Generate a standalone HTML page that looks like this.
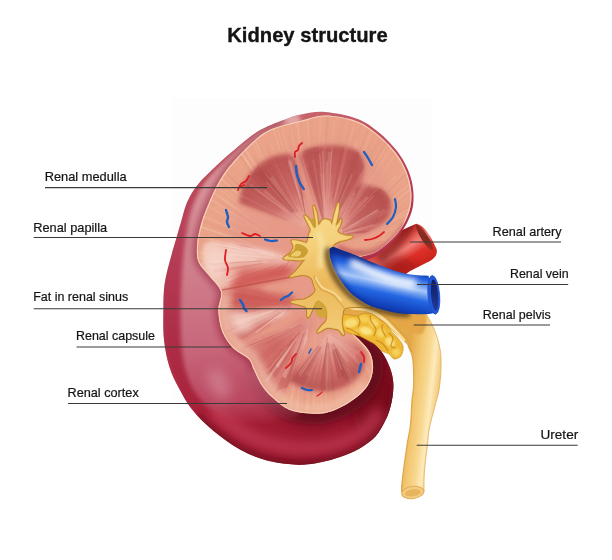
<!DOCTYPE html>
<html><head><meta charset="utf-8"><title>Kidney structure</title>
<style>
html,body{margin:0;padding:0;background:#fff;}
body{width:612px;height:560px;overflow:hidden;position:relative;font-family:"Liberation Sans",sans-serif;}
svg{position:absolute;left:0;top:0;display:block;}
text{font-family:"Liberation Sans",sans-serif;fill:#141414;}
.lbl{font-size:12.1px;stroke:#141414;stroke-width:0.2px;}
.ttl{font-size:20.4px;font-weight:bold;stroke:#141414;stroke-width:0.35px;}
.ln{stroke:#3a3a3a;stroke-width:1.1;fill:none;}
</style></head><body>
<svg width="612" height="560" viewBox="0 0 612 560">
<defs>
<clipPath id="cface"><path d="M300.0,121.0 C309.1,118.7 315.7,115.5 325.0,115.5 C334.3,115.5 347.3,117.9 356.0,121.0 C364.7,124.1 370.4,128.8 377.0,134.0 C383.6,139.2 390.7,146.4 395.5,152.5 C400.3,158.6 403.4,164.4 406.0,170.5 C408.6,176.6 410.2,183.1 411.0,189.0 C411.8,194.9 411.6,200.5 410.6,206.0 C409.6,211.5 407.3,217.3 405.0,222.0 C402.7,226.7 400.1,230.2 397.0,234.0 C393.9,237.8 390.3,241.3 386.5,244.5 C382.7,247.7 378.8,250.8 374.0,253.0 C369.2,255.2 362.3,255.5 358.0,258.0 C353.7,260.5 350.3,262.7 348.0,268.0 C345.7,273.3 344.7,282.2 344.0,290.0 C343.3,297.8 343.7,308.8 344.0,315.0 C344.3,321.2 343.4,322.8 346.0,327.0 C348.6,331.2 355.5,335.6 359.6,340.0 C363.7,344.4 368.2,348.7 370.4,353.6 C372.6,358.5 373.4,364.2 373.0,369.6 C372.6,375.0 370.8,380.8 367.7,385.7 C364.6,390.6 359.7,395.0 354.3,399.0 C348.9,403.0 341.8,407.3 335.5,409.8 C329.2,412.3 324.4,413.8 316.8,413.8 C309.2,413.8 297.4,412.7 290.0,410.0 C282.6,407.3 277.2,401.7 272.5,397.6 C267.8,393.5 264.9,390.2 261.8,385.5 C258.7,380.8 256.0,373.9 253.8,369.5 C251.6,365.1 251.9,362.4 248.4,358.8 C244.9,355.2 237.3,352.4 233.0,347.9 C228.7,343.4 224.8,338.1 222.3,331.8 C219.9,325.5 218.5,316.7 218.3,310.0 C218.1,303.3 222.6,297.4 221.0,291.6 C219.4,285.9 212.8,280.4 209.0,275.5 C205.2,270.6 200.5,266.9 198.5,262.0 C196.5,257.1 196.8,251.3 197.0,246.0 C197.2,240.7 198.3,235.6 199.6,230.0 C200.9,224.4 202.3,219.4 205.0,212.5 C207.7,205.6 211.5,196.0 215.5,188.4 C219.5,180.8 222.9,174.6 229.0,167.0 C235.1,159.4 244.9,149.2 251.8,142.9 C258.7,136.7 262.5,133.2 270.5,129.5 C278.5,125.8 290.9,123.3 300.0,121.0Z"/></clipPath>
<clipPath id="couter"><path d="M300.0,114.7 C306.8,113.4 315.3,111.3 324.8,112.0 C334.3,112.7 348.1,115.4 357.0,118.7 C365.9,122.0 371.7,126.6 378.4,132.0 C385.1,137.4 392.1,144.7 397.0,151.0 C401.9,157.3 405.2,163.4 407.9,169.6 C410.6,175.8 412.2,182.2 413.0,188.4 C413.8,194.6 413.8,201.2 412.8,207.0 C411.8,212.8 409.3,218.3 407.0,223.0 C404.7,227.7 402.0,231.2 399.0,235.0 C396.0,238.8 392.8,242.5 389.0,246.0 C385.2,249.5 380.8,253.3 376.0,256.0 C371.2,258.7 364.3,259.7 360.0,262.0 C355.7,264.3 352.3,265.3 350.0,270.0 C347.7,274.7 346.0,282.5 346.0,290.0 C346.0,297.5 346.8,307.5 350.0,315.0 C353.2,322.5 359.8,328.8 365.0,334.8 C370.2,340.8 376.8,345.5 381.0,351.0 C385.2,356.5 388.0,362.8 390.0,368.0 C392.0,373.2 392.8,377.3 393.2,382.0 C393.6,386.7 393.2,391.3 392.6,396.0 C392.0,400.7 390.8,405.8 389.5,410.0 C388.2,414.2 387.4,416.6 385.0,421.0 C382.6,425.4 379.6,432.0 375.4,436.6 C371.2,441.2 365.5,445.0 359.6,448.4 C353.7,451.8 346.3,454.7 340.0,457.0 C333.7,459.3 327.3,460.8 322.0,462.0 C316.7,463.2 312.7,463.9 308.0,464.3 C303.3,464.7 300.8,465.2 294.0,464.6 C287.2,464.0 275.9,463.0 267.0,460.5 C258.1,458.0 249.3,454.7 240.4,449.8 C231.5,444.9 221.7,437.7 213.6,431.0 C205.5,424.3 197.8,416.8 192.0,409.6 C186.2,402.4 182.6,395.1 178.8,388.0 C175.0,380.9 171.9,374.8 169.4,366.8 C166.9,358.8 165.0,349.5 164.0,340.0 C163.0,330.5 163.3,319.4 163.4,310.0 C163.5,300.6 163.4,292.5 164.7,283.6 C166.0,274.7 168.9,264.9 171.0,256.8 C173.1,248.7 175.6,241.1 177.3,235.0 C179.1,228.9 180.1,225.5 181.5,220.5 C182.9,215.5 184.2,209.8 186.0,205.0 C187.8,200.2 190.1,195.9 192.5,192.0 C194.9,188.1 197.6,184.8 200.5,181.5 C203.4,178.2 205.1,176.7 210.0,172.0 C214.9,167.3 222.2,160.3 230.0,153.6 C237.8,146.9 248.0,137.6 257.0,132.0 C266.0,126.4 276.8,122.9 284.0,120.0 C291.2,117.1 293.2,116.0 300.0,114.7Z"/></clipPath>
<filter id="b07" filterUnits="userSpaceOnUse" x="0" y="0" width="612" height="560"><feGaussianBlur stdDeviation="0.7"/></filter>
<filter id="b1" filterUnits="userSpaceOnUse" x="0" y="0" width="612" height="560"><feGaussianBlur stdDeviation="1"/></filter>
<filter id="b15" filterUnits="userSpaceOnUse" x="0" y="0" width="612" height="560"><feGaussianBlur stdDeviation="1.5"/></filter>
<filter id="b2" filterUnits="userSpaceOnUse" x="0" y="0" width="612" height="560"><feGaussianBlur stdDeviation="2"/></filter>
<filter id="b3" filterUnits="userSpaceOnUse" x="0" y="0" width="612" height="560"><feGaussianBlur stdDeviation="3"/></filter>
<filter id="b4" filterUnits="userSpaceOnUse" x="0" y="0" width="612" height="560"><feGaussianBlur stdDeviation="4"/></filter>
<filter id="b6" filterUnits="userSpaceOnUse" x="0" y="0" width="612" height="560"><feGaussianBlur stdDeviation="6"/></filter>
<filter id="b8" filterUnits="userSpaceOnUse" x="0" y="0" width="612" height="560"><feGaussianBlur stdDeviation="8"/></filter>
<filter id="b12" filterUnits="userSpaceOnUse" x="0" y="0" width="612" height="560"><feGaussianBlur stdDeviation="12"/></filter>
<linearGradient id="gart" gradientUnits="userSpaceOnUse" x1="400" y1="232" x2="424" y2="270"><stop offset="0" stop-color="#c02420"/><stop offset="0.22" stop-color="#e85a52"/><stop offset="0.38" stop-color="#f08078"/><stop offset="0.6" stop-color="#de3028"/><stop offset="1" stop-color="#c42018"/></linearGradient>
<linearGradient id="garti" gradientUnits="userSpaceOnUse" x1="416" y1="226" x2="432" y2="250"><stop offset="0" stop-color="#b03028"/><stop offset="0.5" stop-color="#7e2a20"/><stop offset="1" stop-color="#b83028"/></linearGradient>
<clipPath id="cart"><path d="M358,250 L416.2,223.8 C424,225 431,236 436.5,249 C438,254 435,258 430,261 L410,271 L395,282 L354,268Z"/></clipPath>
<linearGradient id="gcap" gradientUnits="userSpaceOnUse" x1="220" y1="130" x2="330" y2="470"><stop offset="0" stop-color="#c8686e"/><stop offset="0.25" stop-color="#b8405a"/><stop offset="0.5" stop-color="#ae2e48"/><stop offset="0.75" stop-color="#a82038"/><stop offset="1" stop-color="#8e1226"/></linearGradient>
<linearGradient id="gplat" gradientUnits="userSpaceOnUse" x1="230" y1="140" x2="250" y2="430"><stop offset="0" stop-color="#e0a4a4"/><stop offset="0.3" stop-color="#d48a94"/><stop offset="0.7" stop-color="#c8687c"/><stop offset="0.9" stop-color="#c25870" stop-opacity="0.7"/><stop offset="1" stop-color="#b83a52" stop-opacity="0"/></linearGradient>
<radialGradient id="gp16" gradientUnits="userSpaceOnUse" cx="308.0" cy="228.0" r="76.0"><stop offset="0" stop-color="#ecb0a2"/><stop offset="0.22" stop-color="#e49a8e"/><stop offset="0.5" stop-color="#cc6c68"/><stop offset="0.85" stop-color="#bf5a58"/><stop offset="1" stop-color="#bb5654"/></radialGradient>
<clipPath id="cp17"><path d="M308.0,228.0 L239.0,203.0 C239.8,199.8 241.2,190.0 244.0,184.0 C246.8,178.0 251.3,171.5 256.0,167.0 C260.7,162.5 266.2,159.0 272.0,157.0 C277.8,155.0 286.7,152.8 291.0,155.0 C295.3,157.2 295.7,162.5 298.0,170.0 C300.3,177.5 303.8,195.0 305.0,200.0Z"/></clipPath>
<radialGradient id="gp18" gradientUnits="userSpaceOnUse" cx="326.0" cy="234.0" r="94.0"><stop offset="0" stop-color="#ecb0a2"/><stop offset="0.22" stop-color="#e49a8e"/><stop offset="0.5" stop-color="#cc6c68"/><stop offset="0.85" stop-color="#bf5a58"/><stop offset="1" stop-color="#bb5654"/></radialGradient>
<clipPath id="cp19"><path d="M326.0,234.0 L299.0,156.0 C300.2,154.9 302.2,151.2 306.0,149.5 C309.8,147.8 316.0,146.6 322.0,146.0 C328.0,145.4 336.3,145.2 342.0,146.0 C347.7,146.8 352.7,148.5 356.0,150.5 C359.3,152.5 360.7,154.8 362.0,158.0 C363.3,161.2 364.7,164.3 364.0,170.0 C363.3,175.7 361.0,184.7 358.0,192.0 C355.0,199.3 348.0,210.3 346.0,214.0Z"/></clipPath>
<radialGradient id="gp20" gradientUnits="userSpaceOnUse" cx="334.0" cy="236.0" r="60.0"><stop offset="0" stop-color="#ecb0a2"/><stop offset="0.22" stop-color="#e49a8e"/><stop offset="0.5" stop-color="#cc6c68"/><stop offset="0.85" stop-color="#bf5a58"/><stop offset="1" stop-color="#bb5654"/></radialGradient>
<clipPath id="cp21"><path d="M334.0,236.0 L350.0,200.0 C351.0,197.7 352.7,188.3 356.0,186.0 C359.3,183.7 365.3,185.2 370.0,186.0 C374.7,186.8 380.5,188.0 384.0,191.0 C387.5,194.0 390.5,199.3 391.0,204.0 C391.5,208.7 390.2,214.7 387.0,219.0 C383.8,223.3 377.8,226.8 372.0,230.0 C366.2,233.2 355.3,236.7 352.0,238.0Z"/></clipPath>
<radialGradient id="gp22" gradientUnits="userSpaceOnUse" cx="291.0" cy="259.0" r="85.0"><stop offset="0" stop-color="#f0bcae"/><stop offset="0.3" stop-color="#eaa89c"/><stop offset="0.6" stop-color="#e8a498"/><stop offset="1" stop-color="#f3cabb"/></radialGradient>
<clipPath id="cp23"><path d="M291.0,259.0 L262.0,247.0 C256.7,246.3 239.3,243.7 230.0,243.0 C220.7,242.3 210.5,239.8 206.0,243.0 C201.5,246.2 202.3,256.2 203.0,262.0 C203.7,267.8 207.3,273.5 210.0,278.0 C212.7,282.5 210.7,288.5 219.0,289.0 C227.3,289.5 248.3,283.7 260.0,281.0 C271.7,278.3 284.2,274.3 289.0,273.0Z"/></clipPath>
<radialGradient id="gp24" gradientUnits="userSpaceOnUse" cx="296.0" cy="303.0" r="80.0"><stop offset="0" stop-color="#efb8aa"/><stop offset="0.2" stop-color="#eaa89c"/><stop offset="0.5" stop-color="#d4736c"/><stop offset="0.8" stop-color="#d98078"/><stop offset="1" stop-color="#e59a88"/></radialGradient>
<clipPath id="cp25"><path d="M296.0,303.0 L258.0,288.0 C251.8,288.2 227.5,285.7 221.0,289.0 C214.5,292.3 218.7,301.5 219.0,308.0 C219.3,314.5 220.5,321.8 223.0,328.0 C225.5,334.2 227.5,344.7 234.0,345.0 C240.5,345.3 252.7,335.5 262.0,330.0 C271.3,324.5 285.3,315.0 290.0,312.0Z"/></clipPath>
<radialGradient id="gp26" gradientUnits="userSpaceOnUse" cx="309.0" cy="320.0" r="84.0"><stop offset="0" stop-color="#efb8aa"/><stop offset="0.2" stop-color="#eaa89c"/><stop offset="0.5" stop-color="#d4736c"/><stop offset="0.8" stop-color="#d98078"/><stop offset="1" stop-color="#e59a88"/></radialGradient>
<clipPath id="cp27"><path d="M309.0,320.0 L238.0,346.0 C239.3,348.0 243.3,353.7 246.0,358.0 C248.7,362.3 250.7,367.0 254.0,372.0 C257.3,377.0 261.7,383.7 266.0,388.0 C270.3,392.3 275.0,400.7 280.0,398.0 C285.0,395.3 291.7,380.7 296.0,372.0 C300.3,363.3 304.3,350.3 306.0,346.0Z"/></clipPath>
<radialGradient id="gp28" gradientUnits="userSpaceOnUse" cx="328.0" cy="333.0" r="62.0"><stop offset="0" stop-color="#efb8aa"/><stop offset="0.25" stop-color="#e6a094"/><stop offset="0.6" stop-color="#cf6e68"/><stop offset="0.9" stop-color="#c4625e"/><stop offset="1" stop-color="#c4625e"/></radialGradient>
<clipPath id="cp29"><path d="M328.0,333.0 L288.0,380.0 C289.7,381.0 293.7,384.3 298.0,386.0 C302.3,387.7 308.3,389.3 314.0,390.0 C319.7,390.7 326.0,391.2 332.0,390.0 C338.0,388.8 345.0,386.3 350.0,383.0 C355.0,379.7 359.3,374.8 362.0,370.0 C364.7,365.2 367.0,358.7 366.0,354.0 C365.0,349.3 357.7,344.0 356.0,342.0Z"/></clipPath>
<linearGradient id="gure" gradientUnits="userSpaceOnUse" x1="404" y1="400" x2="440" y2="404"><stop offset="0" stop-color="#e4a848"/><stop offset="0.3" stop-color="#f2c670"/><stop offset="0.55" stop-color="#f8d890"/><stop offset="0.72" stop-color="#fdeabc"/><stop offset="1" stop-color="#eebc60"/></linearGradient>
<radialGradient id="gfat" cx="0.4" cy="0.35" r="0.7"><stop offset="0" stop-color="#f9e48c"/><stop offset="0.45" stop-color="#f0c648"/><stop offset="1" stop-color="#d9a024"/></radialGradient>
<clipPath id="cfat"><path d="M340.5,318.5 C340.7,315.9 342.4,314.9 345.0,314.5 C347.6,314.1 352.8,316.2 356.0,316.0 C359.2,315.8 361.3,313.8 364.0,313.5 C366.7,313.2 369.5,313.1 372.0,314.0 C374.5,314.9 376.7,317.3 379.0,319.0 C381.3,320.7 384.0,322.0 386.0,324.0 C388.0,326.0 389.2,328.8 391.0,331.0 C392.8,333.2 395.0,334.5 397.0,337.0 C399.0,339.5 402.3,342.8 403.0,346.0 C403.7,349.2 402.5,353.8 401.0,356.0 C399.5,358.2 396.0,359.3 394.0,359.0 C392.0,358.7 391.0,355.3 389.0,354.0 C387.0,352.7 384.2,352.5 382.0,351.0 C379.8,349.5 378.5,346.8 376.0,345.0 C373.5,343.2 369.8,341.5 367.0,340.0 C364.2,338.5 361.7,337.0 359.0,336.0 C356.3,335.0 353.5,335.0 351.0,334.0 C348.5,333.0 345.8,332.6 344.0,330.0 C342.2,327.4 340.3,321.1 340.5,318.5Z"/></clipPath>
<linearGradient id="gpel" gradientUnits="userSpaceOnUse" x1="320" y1="205" x2="330" y2="335"><stop offset="0" stop-color="#f7da8c"/><stop offset="0.3" stop-color="#f4d07a"/><stop offset="0.6" stop-color="#ecb95c"/><stop offset="0.8" stop-color="#efc268"/><stop offset="1" stop-color="#f3cc78"/></linearGradient>
<linearGradient id="gvein" gradientUnits="userSpaceOnUse" x1="392" y1="266" x2="382" y2="312"><stop offset="0" stop-color="#153aa8"/><stop offset="0.14" stop-color="#2464e0"/><stop offset="0.38" stop-color="#a8c8f8"/><stop offset="0.6" stop-color="#2466e2"/><stop offset="0.85" stop-color="#1242bc"/><stop offset="1" stop-color="#0b2a8c"/></linearGradient>
<clipPath id="cvein"><path d="M329.5,249.0 C330.1,248.7 331.2,246.9 333.0,247.0 C334.8,247.1 336.3,248.2 340.0,249.5 C343.7,250.8 350.0,253.0 355.0,255.0 C360.0,257.0 364.2,259.2 370.0,261.5 C375.8,263.8 383.3,266.8 390.0,269.0 C396.7,271.2 403.6,273.4 410.0,274.5 C416.4,275.6 425.5,275.5 428.6,275.7 L434.0,313.0 C432.6,313.2 429.7,314.1 425.7,314.3 C421.7,314.5 414.8,314.2 410.0,314.0 C405.2,313.8 402.0,313.7 397.0,312.9 C392.0,312.1 384.7,310.3 380.0,309.0 C375.3,307.7 373.1,307.3 368.6,305.0 C364.1,302.7 357.4,298.7 353.0,295.0 C348.6,291.3 345.6,287.2 342.5,283.0 C339.4,278.8 336.6,274.3 334.5,270.0 C332.4,265.7 330.8,259.2 330.0,257.0Z"/></clipPath>
<linearGradient id="gvi" x1="0" y1="0" x2="0" y2="1"><stop offset="0" stop-color="#121c5e"/><stop offset="1" stop-color="#1e3a9c"/></linearGradient>
</defs>
<rect x="172" y="98" width="260" height="304" fill="#fdfdfd"/>
<path d="M358,250 L416.2,223.8 C424,225 431,236 436.5,249 C438,254 435,258 430,261 L410,271 L395,282 L354,268Z" fill="url(#gart)"/>
<g clip-path="url(#cart)"><path d="M372,262 L400,256 L420,266 L395,282Z" fill="#8e1818" filter="url(#b4)" opacity="0.6"/></g>
<ellipse cx="424.6" cy="237.6" rx="15" ry="3.4" transform="rotate(57.6 424.6 237.6)" fill="url(#garti)"/>
<g clip-path="url(#cart)"><path d="M412,222 L403,237 L392,249 L378,259" fill="none" stroke="#6e1414" stroke-width="9" filter="url(#b3)" opacity="0.65"/></g>
<path d="M300.0,114.7 C306.8,113.4 315.3,111.3 324.8,112.0 C334.3,112.7 348.1,115.4 357.0,118.7 C365.9,122.0 371.7,126.6 378.4,132.0 C385.1,137.4 392.1,144.7 397.0,151.0 C401.9,157.3 405.2,163.4 407.9,169.6 C410.6,175.8 412.2,182.2 413.0,188.4 C413.8,194.6 413.8,201.2 412.8,207.0 C411.8,212.8 409.3,218.3 407.0,223.0 C404.7,227.7 402.0,231.2 399.0,235.0 C396.0,238.8 392.8,242.5 389.0,246.0 C385.2,249.5 380.8,253.3 376.0,256.0 C371.2,258.7 364.3,259.7 360.0,262.0 C355.7,264.3 352.3,265.3 350.0,270.0 C347.7,274.7 346.0,282.5 346.0,290.0 C346.0,297.5 346.8,307.5 350.0,315.0 C353.2,322.5 359.8,328.8 365.0,334.8 C370.2,340.8 376.8,345.5 381.0,351.0 C385.2,356.5 388.0,362.8 390.0,368.0 C392.0,373.2 392.8,377.3 393.2,382.0 C393.6,386.7 393.2,391.3 392.6,396.0 C392.0,400.7 390.8,405.8 389.5,410.0 C388.2,414.2 387.4,416.6 385.0,421.0 C382.6,425.4 379.6,432.0 375.4,436.6 C371.2,441.2 365.5,445.0 359.6,448.4 C353.7,451.8 346.3,454.7 340.0,457.0 C333.7,459.3 327.3,460.8 322.0,462.0 C316.7,463.2 312.7,463.9 308.0,464.3 C303.3,464.7 300.8,465.2 294.0,464.6 C287.2,464.0 275.9,463.0 267.0,460.5 C258.1,458.0 249.3,454.7 240.4,449.8 C231.5,444.9 221.7,437.7 213.6,431.0 C205.5,424.3 197.8,416.8 192.0,409.6 C186.2,402.4 182.6,395.1 178.8,388.0 C175.0,380.9 171.9,374.8 169.4,366.8 C166.9,358.8 165.0,349.5 164.0,340.0 C163.0,330.5 163.3,319.4 163.4,310.0 C163.5,300.6 163.4,292.5 164.7,283.6 C166.0,274.7 168.9,264.9 171.0,256.8 C173.1,248.7 175.6,241.1 177.3,235.0 C179.1,228.9 180.1,225.5 181.5,220.5 C182.9,215.5 184.2,209.8 186.0,205.0 C187.8,200.2 190.1,195.9 192.5,192.0 C194.9,188.1 197.6,184.8 200.5,181.5 C203.4,178.2 205.1,176.7 210.0,172.0 C214.9,167.3 222.2,160.3 230.0,153.6 C237.8,146.9 248.0,137.6 257.0,132.0 C266.0,126.4 276.8,122.9 284.0,120.0 C291.2,117.1 293.2,116.0 300.0,114.7Z" fill="url(#gcap)"/>
<g clip-path="url(#couter)">
<ellipse cx="378" cy="395" rx="26" ry="58" fill="#7a0f1f" filter="url(#b8)" opacity="0.9"/>
<path d="M196.0,418.0 C198.9,420.5 206.2,427.4 213.6,433.0 C221.0,438.6 231.5,446.9 240.4,451.8 C249.3,456.7 258.1,460.0 267.0,462.5 C275.9,465.0 287.2,466.0 294.0,466.6 C300.8,467.2 303.3,466.7 308.0,466.3 C312.7,465.9 316.7,465.2 322.0,464.0 C327.3,462.8 333.6,461.3 340.0,459.0 C346.4,456.7 354.3,453.5 360.5,450.0 C366.7,446.5 372.6,442.7 377.0,438.0 C381.4,433.3 384.6,426.7 387.0,422.0 C389.4,417.3 390.2,414.3 391.5,410.0 C392.8,405.7 394.0,400.7 394.6,396.0 C395.2,391.3 394.9,384.3 395.0,382.0" fill="none" stroke="#6e0a1a" stroke-width="11" filter="url(#b4)" opacity="0.9"/>
<path d="M212.0,410.0 C218.3,414.5 236.2,430.7 250.0,437.0 C263.8,443.3 280.3,446.8 295.0,448.0 C309.7,449.2 325.8,447.3 338.0,444.0 C350.2,440.7 361.0,433.7 368.0,428.0 C375.0,422.3 378.0,413.0 380.0,410.0" fill="none" stroke="#c63c56" stroke-width="14" filter="url(#b6)" opacity="0.75"/>
<path d="M350.0,330.0 C352.0,331.8 358.3,337.0 362.0,341.0 C365.7,345.0 369.8,349.2 372.0,354.0 C374.2,358.8 375.4,364.5 375.0,370.0 C374.6,375.5 372.7,381.9 369.5,387.0 C366.3,392.1 361.5,396.4 356.0,400.5 C350.5,404.6 343.0,409.1 336.5,411.6 C330.0,414.2 324.6,415.7 316.8,415.8 C309.1,415.9 297.6,414.7 290.0,412.0 C282.4,409.3 276.5,403.9 271.5,399.6 C266.5,395.4 263.2,391.4 260.0,386.5 C256.8,381.6 253.3,373.2 252.0,370.5" fill="none" stroke="#62091a" stroke-width="17" filter="url(#b4)" opacity="0.95"/>
<path d="M300.0,118.0 C295.0,105.4 278.5,121.2 270.0,124.5 C261.5,127.8 256.3,132.2 249.0,138.0 C241.7,143.8 233.2,152.3 226.0,159.5 C218.8,166.7 211.7,172.8 206.0,181.0 C200.3,189.2 195.5,198.7 192.0,209.0 C188.5,219.3 186.8,231.2 185.0,243.0 C183.2,254.8 182.2,268.0 181.5,280.0 C180.8,292.0 180.5,304.2 180.5,315.0 C180.5,325.8 180.6,335.5 181.5,345.0 C182.4,354.5 183.4,363.7 186.0,372.0 C188.6,380.3 192.2,388.3 197.0,395.0 C201.8,401.7 207.8,407.7 215.0,412.0 C222.2,416.3 230.0,419.7 240.0,421.0 C250.0,422.3 265.0,422.7 275.0,420.0 C285.0,417.3 302.5,425.0 300.0,405.0 C297.5,385.0 260.0,334.2 260.0,300.0 C260.0,265.8 293.3,230.3 300.0,200.0 C306.7,169.7 305.0,130.6 300.0,118.0Z" fill="url(#gplat)" filter="url(#b2)"/>
<ellipse cx="219" cy="384" rx="10" ry="17" fill="#dc9aaa" filter="url(#b6)" opacity="0.5" transform="rotate(-28 219 384)"/>
<path d="M284.0,119.0 C279.5,121.0 266.0,125.4 257.0,131.0 C248.0,136.6 237.6,145.9 230.0,152.6 C222.4,159.3 217.3,164.8 211.6,171.0 C205.8,177.2 200.4,181.9 195.5,190.0 C190.6,198.1 185.1,212.0 182.0,219.5 C178.9,227.0 179.0,228.8 176.8,235.0 C174.6,241.2 170.7,248.7 168.7,256.8 C166.7,264.9 165.6,274.7 164.7,283.6 C163.8,292.5 163.5,300.6 163.4,310.0 C163.3,319.4 163.0,330.5 164.0,340.0 C165.0,349.5 166.9,358.8 169.4,366.8 C171.9,374.8 177.2,384.5 178.8,388.0" fill="none" stroke="#b23a4c" stroke-width="3.5" filter="url(#b15)" opacity="0.6"/>
<path d="M285.0,124.0 C282.6,124.9 276.0,126.3 270.5,129.5 C265.0,132.7 258.7,136.7 251.8,142.9 C244.9,149.2 235.1,159.4 229.0,167.0 C222.9,174.6 219.5,180.8 215.5,188.4 C211.5,196.0 207.7,205.6 205.0,212.5 C202.3,219.4 200.9,224.4 199.6,230.0 C198.3,235.6 197.2,240.7 197.0,246.0 C196.8,251.3 196.5,257.1 198.5,262.0 C200.5,266.9 205.2,270.6 209.0,275.5 C212.8,280.4 219.4,285.9 221.0,291.6 C222.6,297.4 218.1,303.3 218.3,310.0 C218.5,316.7 219.9,325.5 222.3,331.8 C224.8,338.1 228.7,343.4 233.0,347.9 C237.3,352.4 244.9,355.2 248.4,358.8 C251.9,362.4 252.9,367.7 253.8,369.5" fill="none" stroke="#8a1830" stroke-width="7" filter="url(#b3)" opacity="0.55"/>
</g>
<path d="M300.0,121.0 C309.1,118.7 315.7,115.5 325.0,115.5 C334.3,115.5 347.3,117.9 356.0,121.0 C364.7,124.1 370.4,128.8 377.0,134.0 C383.6,139.2 390.7,146.4 395.5,152.5 C400.3,158.6 403.4,164.4 406.0,170.5 C408.6,176.6 410.2,183.1 411.0,189.0 C411.8,194.9 411.6,200.5 410.6,206.0 C409.6,211.5 407.3,217.3 405.0,222.0 C402.7,226.7 400.1,230.2 397.0,234.0 C393.9,237.8 390.3,241.3 386.5,244.5 C382.7,247.7 378.8,250.8 374.0,253.0 C369.2,255.2 362.3,255.5 358.0,258.0 C353.7,260.5 350.3,262.7 348.0,268.0 C345.7,273.3 344.7,282.2 344.0,290.0 C343.3,297.8 343.7,308.8 344.0,315.0 C344.3,321.2 343.4,322.8 346.0,327.0 C348.6,331.2 355.5,335.6 359.6,340.0 C363.7,344.4 368.2,348.7 370.4,353.6 C372.6,358.5 373.4,364.2 373.0,369.6 C372.6,375.0 370.8,380.8 367.7,385.7 C364.6,390.6 359.7,395.0 354.3,399.0 C348.9,403.0 341.8,407.3 335.5,409.8 C329.2,412.3 324.4,413.8 316.8,413.8 C309.2,413.8 297.4,412.7 290.0,410.0 C282.6,407.3 277.2,401.7 272.5,397.6 C267.8,393.5 264.9,390.2 261.8,385.5 C258.7,380.8 256.0,373.9 253.8,369.5 C251.6,365.1 251.9,362.4 248.4,358.8 C244.9,355.2 237.3,352.4 233.0,347.9 C228.7,343.4 224.8,338.1 222.3,331.8 C219.9,325.5 218.5,316.7 218.3,310.0 C218.1,303.3 222.6,297.4 221.0,291.6 C219.4,285.9 212.8,280.4 209.0,275.5 C205.2,270.6 200.5,266.9 198.5,262.0 C196.5,257.1 196.8,251.3 197.0,246.0 C197.2,240.7 198.3,235.6 199.6,230.0 C200.9,224.4 202.3,219.4 205.0,212.5 C207.7,205.6 211.5,196.0 215.5,188.4 C219.5,180.8 222.9,174.6 229.0,167.0 C235.1,159.4 244.9,149.2 251.8,142.9 C258.7,136.7 262.5,133.2 270.5,129.5 C278.5,125.8 290.9,123.3 300.0,121.0Z" fill="#eaa388"/>
<g clip-path="url(#cface)">
<g filter="url(#b07)">
<line x1="293.7" y1="318.1" x2="262.8" y2="395.3" stroke="#f6cdb4" stroke-width="1.9" opacity="0.14"/>
<line x1="240.8" y1="211.9" x2="203.6" y2="185.2" stroke="#f6cdb4" stroke-width="1.4" opacity="0.13"/>
<line x1="366.5" y1="306.3" x2="433.6" y2="360.0" stroke="#f6cdb4" stroke-width="2.1" opacity="0.23"/>
<line x1="277.6" y1="238.2" x2="221.2" y2="197.6" stroke="#f6cdb4" stroke-width="2.2" opacity="0.13"/>
<line x1="349.3" y1="212.1" x2="373.7" y2="174.6" stroke="#f6cdb4" stroke-width="1.6" opacity="0.22"/>
<line x1="296.3" y1="213.6" x2="269.7" y2="140.5" stroke="#f3c0a4" stroke-width="1.3" opacity="0.22"/>
<line x1="354.7" y1="285.6" x2="393.8" y2="306.0" stroke="#f8d8c4" stroke-width="1.4" opacity="0.18"/>
<line x1="261.2" y1="224.9" x2="220.0" y2="194.2" stroke="#f3c0a4" stroke-width="1.8" opacity="0.16"/>
<line x1="255.9" y1="227.7" x2="182.2" y2="181.2" stroke="#e29a84" stroke-width="1.2" opacity="0.30"/>
<line x1="359.9" y1="316.4" x2="415.5" y2="380.1" stroke="#f3c0a4" stroke-width="2.1" opacity="0.20"/>
<line x1="357.6" y1="252.0" x2="419.3" y2="233.3" stroke="#dc8c78" stroke-width="1.3" opacity="0.18"/>
<line x1="235.2" y1="267.1" x2="201.1" y2="268.0" stroke="#f6cdb4" stroke-width="2.1" opacity="0.21"/>
<line x1="292.9" y1="218.8" x2="255.9" y2="141.5" stroke="#f8d8c4" stroke-width="2.2" opacity="0.27"/>
<line x1="302.2" y1="337.4" x2="287.1" y2="423.0" stroke="#f6cdb4" stroke-width="2.1" opacity="0.18"/>
<line x1="265.4" y1="213.1" x2="232.4" y2="178.5" stroke="#dc8c78" stroke-width="1.0" opacity="0.16"/>
<line x1="250.3" y1="331.1" x2="223.3" y2="358.7" stroke="#e29a84" stroke-width="1.4" opacity="0.17"/>
<line x1="355.1" y1="323.3" x2="396.2" y2="383.0" stroke="#e29a84" stroke-width="2.2" opacity="0.24"/>
<line x1="277.3" y1="309.0" x2="251.8" y2="338.8" stroke="#f3c0a4" stroke-width="1.1" opacity="0.16"/>
<line x1="245.9" y1="273.2" x2="200.3" y2="278.6" stroke="#f6cdb4" stroke-width="1.0" opacity="0.22"/>
<line x1="271.9" y1="220.5" x2="242.9" y2="190.6" stroke="#f8d8c4" stroke-width="2.1" opacity="0.24"/>
<line x1="311.0" y1="186.6" x2="305.7" y2="84.0" stroke="#f8d8c4" stroke-width="1.3" opacity="0.19"/>
<line x1="372.1" y1="319.3" x2="398.9" y2="344.8" stroke="#f6cdb4" stroke-width="2.2" opacity="0.20"/>
<line x1="369.0" y1="320.8" x2="396.8" y2="349.6" stroke="#f8d8c4" stroke-width="1.0" opacity="0.14"/>
<line x1="288.0" y1="304.0" x2="234.0" y2="381.9" stroke="#f8d8c4" stroke-width="1.3" opacity="0.23"/>
<line x1="382.4" y1="240.8" x2="438.6" y2="220.6" stroke="#f6cdb4" stroke-width="2.0" opacity="0.30"/>
<line x1="252.3" y1="282.0" x2="217.9" y2="291.3" stroke="#f6cdb4" stroke-width="1.8" opacity="0.25"/>
<line x1="241.1" y1="277.5" x2="180.6" y2="287.7" stroke="#f3c0a4" stroke-width="2.1" opacity="0.22"/>
<line x1="355.6" y1="331.8" x2="374.8" y2="363.3" stroke="#f8d8c4" stroke-width="1.2" opacity="0.24"/>
<line x1="384.2" y1="320.7" x2="435.6" y2="362.0" stroke="#f3c0a4" stroke-width="1.3" opacity="0.16"/>
<line x1="252.1" y1="244.0" x2="186.2" y2="222.0" stroke="#f8d8c4" stroke-width="1.9" opacity="0.30"/>
<line x1="363.3" y1="184.8" x2="410.8" y2="105.8" stroke="#f3c0a4" stroke-width="1.1" opacity="0.21"/>
<line x1="304.3" y1="153.9" x2="295.1" y2="57.9" stroke="#e29a84" stroke-width="1.2" opacity="0.24"/>
<line x1="375.0" y1="244.0" x2="458.1" y2="214.9" stroke="#dc8c78" stroke-width="2.1" opacity="0.19"/>
<line x1="324.5" y1="328.1" x2="332.2" y2="379.4" stroke="#f3c0a4" stroke-width="1.5" opacity="0.30"/>
<line x1="284.1" y1="233.0" x2="219.1" y2="165.5" stroke="#dc8c78" stroke-width="1.9" opacity="0.14"/>
<line x1="269.5" y1="174.6" x2="228.5" y2="93.2" stroke="#f3c0a4" stroke-width="1.5" opacity="0.15"/>
<line x1="328.8" y1="196.3" x2="347.8" y2="101.7" stroke="#e29a84" stroke-width="1.4" opacity="0.25"/>
<line x1="356.3" y1="295.5" x2="433.4" y2="352.4" stroke="#f6cdb4" stroke-width="1.0" opacity="0.28"/>
<line x1="331.4" y1="209.6" x2="359.1" y2="116.3" stroke="#e29a84" stroke-width="1.7" opacity="0.18"/>
<line x1="270.6" y1="247.5" x2="241.2" y2="235.9" stroke="#f6cdb4" stroke-width="1.5" opacity="0.29"/>
<line x1="238.5" y1="307.2" x2="165.8" y2="347.4" stroke="#f3c0a4" stroke-width="0.8" opacity="0.16"/>
<line x1="236.8" y1="264.3" x2="187.3" y2="263.8" stroke="#f8d8c4" stroke-width="1.4" opacity="0.14"/>
<line x1="363.7" y1="226.4" x2="412.3" y2="187.9" stroke="#f8d8c4" stroke-width="1.9" opacity="0.21"/>
<line x1="354.1" y1="172.2" x2="371.7" y2="130.3" stroke="#f3c0a4" stroke-width="1.5" opacity="0.12"/>
<line x1="269.3" y1="287.6" x2="241.2" y2="301.5" stroke="#f3c0a4" stroke-width="1.0" opacity="0.21"/>
<line x1="304.5" y1="181.2" x2="296.8" y2="120.1" stroke="#f8d8c4" stroke-width="1.5" opacity="0.21"/>
<line x1="328.9" y1="161.3" x2="334.5" y2="120.1" stroke="#f3c0a4" stroke-width="1.2" opacity="0.26"/>
<line x1="247.0" y1="260.9" x2="171.5" y2="256.3" stroke="#f6cdb4" stroke-width="1.4" opacity="0.23"/>
<line x1="249.4" y1="262.1" x2="177.9" y2="259.0" stroke="#e29a84" stroke-width="1.5" opacity="0.27"/>
<line x1="262.7" y1="261.8" x2="201.4" y2="258.1" stroke="#dc8c78" stroke-width="2.1" opacity="0.28"/>
<line x1="333.3" y1="339.5" x2="349.5" y2="405.3" stroke="#e29a84" stroke-width="1.4" opacity="0.13"/>
<line x1="317.6" y1="319.5" x2="321.7" y2="407.0" stroke="#f6cdb4" stroke-width="2.1" opacity="0.15"/>
<line x1="299.6" y1="175.8" x2="291.4" y2="128.7" stroke="#f3c0a4" stroke-width="2.2" opacity="0.16"/>
<line x1="372.3" y1="243.0" x2="428.9" y2="221.2" stroke="#f3c0a4" stroke-width="1.0" opacity="0.20"/>
<line x1="258.3" y1="258.0" x2="216.8" y2="252.9" stroke="#dc8c78" stroke-width="0.9" opacity="0.19"/>
<line x1="282.0" y1="332.0" x2="244.1" y2="408.7" stroke="#e29a84" stroke-width="1.3" opacity="0.23"/>
<line x1="271.9" y1="260.8" x2="183.1" y2="252.3" stroke="#f3c0a4" stroke-width="2.2" opacity="0.14"/>
<line x1="310.9" y1="317.2" x2="303.4" y2="412.7" stroke="#dc8c78" stroke-width="1.9" opacity="0.27"/>
<line x1="358.2" y1="190.2" x2="409.0" y2="102.3" stroke="#e29a84" stroke-width="1.0" opacity="0.29"/>
<line x1="247.2" y1="224.8" x2="215.3" y2="205.8" stroke="#f6cdb4" stroke-width="1.9" opacity="0.15"/>
<line x1="357.3" y1="224.1" x2="381.8" y2="200.4" stroke="#f6cdb4" stroke-width="1.9" opacity="0.14"/>
<line x1="341.8" y1="222.5" x2="392.4" y2="142.2" stroke="#e29a84" stroke-width="0.8" opacity="0.30"/>
<line x1="240.4" y1="318.0" x2="181.9" y2="359.5" stroke="#f6cdb4" stroke-width="1.5" opacity="0.16"/>
<line x1="352.1" y1="303.1" x2="377.7" y2="329.3" stroke="#f3c0a4" stroke-width="2.1" opacity="0.23"/>
<line x1="265.7" y1="252.8" x2="210.0" y2="239.0" stroke="#f3c0a4" stroke-width="1.2" opacity="0.26"/>
<line x1="356.8" y1="263.2" x2="387.9" y2="261.8" stroke="#f8d8c4" stroke-width="1.6" opacity="0.15"/>
<line x1="229.4" y1="282.1" x2="193.4" y2="289.3" stroke="#e29a84" stroke-width="1.7" opacity="0.22"/>
<line x1="382.7" y1="193.8" x2="419.8" y2="154.8" stroke="#f3c0a4" stroke-width="2.2" opacity="0.18"/>
<line x1="352.2" y1="183.1" x2="385.9" y2="109.1" stroke="#e29a84" stroke-width="2.2" opacity="0.30"/>
<line x1="336.2" y1="221.5" x2="371.3" y2="149.4" stroke="#dc8c78" stroke-width="1.4" opacity="0.13"/>
<line x1="285.0" y1="201.4" x2="254.4" y2="136.4" stroke="#dc8c78" stroke-width="1.6" opacity="0.24"/>
<line x1="362.3" y1="282.3" x2="406.6" y2="298.4" stroke="#f6cdb4" stroke-width="1.2" opacity="0.29"/>
<line x1="381.4" y1="250.6" x2="425.4" y2="241.0" stroke="#dc8c78" stroke-width="1.1" opacity="0.15"/>
<line x1="292.4" y1="312.5" x2="268.5" y2="362.7" stroke="#f3c0a4" stroke-width="1.1" opacity="0.26"/>
<line x1="383.0" y1="319.6" x2="415.5" y2="345.7" stroke="#f8d8c4" stroke-width="0.9" opacity="0.12"/>
<line x1="297.7" y1="325.8" x2="276.0" y2="402.6" stroke="#f8d8c4" stroke-width="2.0" opacity="0.15"/>
<line x1="376.9" y1="203.2" x2="428.3" y2="151.9" stroke="#dc8c78" stroke-width="1.8" opacity="0.21"/>
<line x1="299.9" y1="351.6" x2="291.6" y2="398.9" stroke="#f8d8c4" stroke-width="1.7" opacity="0.25"/>
<line x1="332.9" y1="210.7" x2="356.3" y2="139.7" stroke="#f8d8c4" stroke-width="1.6" opacity="0.27"/>
<line x1="388.9" y1="274.4" x2="466.4" y2="284.2" stroke="#f3c0a4" stroke-width="0.9" opacity="0.13"/>
<line x1="257.7" y1="181.5" x2="223.5" y2="131.7" stroke="#e29a84" stroke-width="1.6" opacity="0.23"/>
<line x1="263.1" y1="199.1" x2="221.4" y2="146.2" stroke="#f6cdb4" stroke-width="1.4" opacity="0.13"/>
<line x1="392.4" y1="221.3" x2="424.7" y2="203.1" stroke="#f8d8c4" stroke-width="0.9" opacity="0.25"/>
<line x1="314.4" y1="319.6" x2="313.8" y2="377.1" stroke="#f3c0a4" stroke-width="1.1" opacity="0.24"/>
<line x1="235.3" y1="290.4" x2="201.7" y2="301.0" stroke="#dc8c78" stroke-width="1.9" opacity="0.23"/>
<line x1="287.6" y1="222.1" x2="263.4" y2="184.2" stroke="#dc8c78" stroke-width="1.7" opacity="0.24"/>
<line x1="281.2" y1="224.8" x2="238.5" y2="173.9" stroke="#e29a84" stroke-width="1.2" opacity="0.24"/>
<line x1="288.8" y1="178.8" x2="271.9" y2="123.3" stroke="#f8d8c4" stroke-width="1.2" opacity="0.20"/>
<line x1="324.7" y1="153.6" x2="331.4" y2="75.3" stroke="#dc8c78" stroke-width="2.2" opacity="0.29"/>
<line x1="377.6" y1="273.6" x2="456.3" y2="284.5" stroke="#e29a84" stroke-width="2.2" opacity="0.19"/>
<line x1="389.9" y1="210.9" x2="419.7" y2="189.3" stroke="#f6cdb4" stroke-width="1.0" opacity="0.21"/>
<line x1="359.6" y1="247.9" x2="435.3" y2="219.0" stroke="#f8d8c4" stroke-width="1.2" opacity="0.14"/>
<line x1="272.0" y1="325.8" x2="217.3" y2="403.1" stroke="#e29a84" stroke-width="0.8" opacity="0.12"/>
<line x1="252.5" y1="269.1" x2="204.5" y2="272.2" stroke="#f3c0a4" stroke-width="1.4" opacity="0.19"/>
<line x1="356.0" y1="313.7" x2="391.9" y2="356.3" stroke="#dc8c78" stroke-width="2.0" opacity="0.14"/>
<line x1="382.7" y1="222.8" x2="458.0" y2="175.9" stroke="#dc8c78" stroke-width="1.2" opacity="0.13"/>
<line x1="250.6" y1="331.4" x2="223.9" y2="359.0" stroke="#e29a84" stroke-width="1.9" opacity="0.27"/>
<line x1="306.9" y1="317.2" x2="293.5" y2="402.8" stroke="#f3c0a4" stroke-width="1.1" opacity="0.17"/>
<line x1="265.6" y1="260.7" x2="213.3" y2="256.2" stroke="#e29a84" stroke-width="2.0" opacity="0.27"/>
<line x1="256.7" y1="186.5" x2="197.9" y2="107.3" stroke="#f8d8c4" stroke-width="1.1" opacity="0.13"/>
<line x1="370.3" y1="234.3" x2="431.5" y2="200.3" stroke="#f3c0a4" stroke-width="1.7" opacity="0.17"/>
<line x1="397.3" y1="297.7" x2="433.2" y2="311.9" stroke="#e29a84" stroke-width="1.4" opacity="0.17"/>
<line x1="312.2" y1="361.1" x2="309.7" y2="447.5" stroke="#e29a84" stroke-width="1.7" opacity="0.17"/>
<line x1="259.1" y1="238.7" x2="221.6" y2="221.1" stroke="#f3c0a4" stroke-width="0.9" opacity="0.21"/>
<line x1="340.6" y1="186.9" x2="362.2" y2="120.7" stroke="#dc8c78" stroke-width="2.2" opacity="0.20"/>
<line x1="346.7" y1="312.7" x2="369.4" y2="346.8" stroke="#dc8c78" stroke-width="1.6" opacity="0.18"/>
<line x1="260.5" y1="339.1" x2="232.0" y2="377.8" stroke="#f6cdb4" stroke-width="1.8" opacity="0.19"/>
<line x1="258.2" y1="307.6" x2="213.2" y2="341.5" stroke="#dc8c78" stroke-width="1.9" opacity="0.21"/>
<line x1="263.2" y1="232.4" x2="199.6" y2="192.3" stroke="#f8d8c4" stroke-width="1.7" opacity="0.28"/>
<line x1="326.4" y1="330.4" x2="335.9" y2="385.3" stroke="#e29a84" stroke-width="1.7" opacity="0.20"/>
<line x1="284.3" y1="358.3" x2="250.9" y2="460.2" stroke="#f3c0a4" stroke-width="0.8" opacity="0.25"/>
<line x1="365.5" y1="216.5" x2="417.2" y2="166.8" stroke="#f6cdb4" stroke-width="0.9" opacity="0.29"/>
<line x1="374.7" y1="228.8" x2="427.0" y2="197.1" stroke="#e29a84" stroke-width="1.1" opacity="0.14"/>
<line x1="352.4" y1="333.2" x2="392.5" y2="406.3" stroke="#e29a84" stroke-width="0.9" opacity="0.26"/>
<line x1="361.3" y1="265.5" x2="425.4" y2="266.2" stroke="#f6cdb4" stroke-width="1.7" opacity="0.17"/>
<line x1="351.5" y1="312.3" x2="398.8" y2="373.7" stroke="#f6cdb4" stroke-width="0.9" opacity="0.17"/>
<line x1="361.5" y1="243.5" x2="404.3" y2="223.6" stroke="#f8d8c4" stroke-width="0.8" opacity="0.22"/>
<line x1="368.9" y1="263.5" x2="417.9" y2="262.1" stroke="#f3c0a4" stroke-width="1.5" opacity="0.16"/>
<line x1="316.6" y1="375.0" x2="318.0" y2="465.4" stroke="#dc8c78" stroke-width="0.9" opacity="0.15"/>
<line x1="369.2" y1="205.1" x2="395.4" y2="176.3" stroke="#f3c0a4" stroke-width="1.7" opacity="0.29"/>
<line x1="321.1" y1="316.6" x2="328.4" y2="378.8" stroke="#e29a84" stroke-width="1.3" opacity="0.19"/>
<line x1="369.6" y1="267.9" x2="450.2" y2="272.2" stroke="#f6cdb4" stroke-width="1.1" opacity="0.29"/>
<line x1="284.4" y1="358.7" x2="267.8" y2="409.5" stroke="#f3c0a4" stroke-width="1.2" opacity="0.28"/>
<line x1="370.1" y1="321.3" x2="421.7" y2="374.0" stroke="#f3c0a4" stroke-width="1.5" opacity="0.28"/>
<line x1="380.4" y1="295.3" x2="460.4" y2="332.3" stroke="#f6cdb4" stroke-width="1.1" opacity="0.30"/>
<line x1="341.8" y1="306.4" x2="362.9" y2="339.1" stroke="#e29a84" stroke-width="1.4" opacity="0.25"/>
<line x1="297.1" y1="317.5" x2="283.4" y2="357.5" stroke="#f3c0a4" stroke-width="1.3" opacity="0.15"/>
<line x1="386.1" y1="227.1" x2="415.5" y2="211.5" stroke="#e29a84" stroke-width="2.0" opacity="0.30"/>
<line x1="272.5" y1="285.1" x2="240.0" y2="300.4" stroke="#f6cdb4" stroke-width="1.3" opacity="0.29"/>
<line x1="377.9" y1="342.3" x2="408.1" y2="379.5" stroke="#dc8c78" stroke-width="1.9" opacity="0.18"/>
<line x1="329.8" y1="212.7" x2="353.8" y2="127.4" stroke="#f3c0a4" stroke-width="1.3" opacity="0.29"/>
<line x1="335.4" y1="333.2" x2="364.8" y2="431.3" stroke="#f6cdb4" stroke-width="1.7" opacity="0.16"/>
<line x1="272.5" y1="211.6" x2="235.5" y2="165.1" stroke="#e29a84" stroke-width="0.9" opacity="0.29"/>
<line x1="311.6" y1="361.6" x2="307.9" y2="466.4" stroke="#dc8c78" stroke-width="1.3" opacity="0.18"/>
<line x1="355.4" y1="249.9" x2="427.1" y2="223.1" stroke="#dc8c78" stroke-width="2.1" opacity="0.17"/>
<line x1="302.6" y1="179.2" x2="288.7" y2="82.8" stroke="#f6cdb4" stroke-width="0.8" opacity="0.16"/>
<line x1="228.2" y1="282.0" x2="142.0" y2="299.0" stroke="#e29a84" stroke-width="1.9" opacity="0.28"/>
<line x1="333.5" y1="211.5" x2="357.1" y2="142.8" stroke="#f6cdb4" stroke-width="1.9" opacity="0.25"/>
<line x1="349.7" y1="176.8" x2="379.0" y2="102.3" stroke="#dc8c78" stroke-width="2.0" opacity="0.20"/>
<line x1="329.7" y1="179.7" x2="342.5" y2="105.5" stroke="#e29a84" stroke-width="1.9" opacity="0.16"/>
<line x1="353.3" y1="285.6" x2="411.3" y2="316.8" stroke="#dc8c78" stroke-width="1.0" opacity="0.20"/>
<line x1="349.4" y1="298.5" x2="402.7" y2="350.3" stroke="#f3c0a4" stroke-width="0.9" opacity="0.21"/>
<line x1="299.4" y1="189.5" x2="288.4" y2="136.2" stroke="#e29a84" stroke-width="1.4" opacity="0.28"/>
<line x1="321.3" y1="348.3" x2="328.6" y2="443.4" stroke="#f6cdb4" stroke-width="1.9" opacity="0.17"/>
<line x1="305.2" y1="330.6" x2="296.9" y2="386.2" stroke="#dc8c78" stroke-width="1.1" opacity="0.16"/>
<line x1="316.4" y1="324.6" x2="318.8" y2="428.3" stroke="#f8d8c4" stroke-width="1.1" opacity="0.13"/>
<line x1="314.5" y1="330.4" x2="313.8" y2="407.3" stroke="#f6cdb4" stroke-width="1.7" opacity="0.30"/>
<line x1="366.0" y1="312.8" x2="429.4" y2="372.1" stroke="#e29a84" stroke-width="2.1" opacity="0.13"/>
<line x1="302.5" y1="320.3" x2="291.3" y2="370.1" stroke="#f8d8c4" stroke-width="1.1" opacity="0.13"/>
<line x1="266.3" y1="260.1" x2="200.3" y2="253.6" stroke="#f6cdb4" stroke-width="0.9" opacity="0.23"/>
<line x1="277.9" y1="221.5" x2="239.9" y2="176.9" stroke="#f3c0a4" stroke-width="0.9" opacity="0.30"/>
<line x1="389.4" y1="287.8" x2="471.8" y2="313.0" stroke="#f6cdb4" stroke-width="1.9" opacity="0.19"/>
<line x1="265.8" y1="329.0" x2="241.8" y2="360.3" stroke="#f6cdb4" stroke-width="1.9" opacity="0.22"/>
<line x1="356.6" y1="286.8" x2="406.1" y2="312.8" stroke="#f8d8c4" stroke-width="1.0" opacity="0.22"/>
<line x1="280.7" y1="203.6" x2="254.3" y2="156.2" stroke="#dc8c78" stroke-width="1.7" opacity="0.20"/>
<line x1="388.3" y1="295.6" x2="467.0" y2="328.5" stroke="#e29a84" stroke-width="1.4" opacity="0.28"/>
<line x1="373.2" y1="263.5" x2="415.0" y2="262.3" stroke="#e29a84" stroke-width="1.1" opacity="0.12"/>
<line x1="364.9" y1="220.7" x2="429.4" y2="163.3" stroke="#e29a84" stroke-width="1.6" opacity="0.19"/>
<line x1="321.7" y1="207.5" x2="326.5" y2="166.5" stroke="#f3c0a4" stroke-width="1.7" opacity="0.28"/>
<line x1="375.3" y1="312.2" x2="419.6" y2="346.8" stroke="#f8d8c4" stroke-width="1.0" opacity="0.18"/>
<line x1="340.6" y1="316.6" x2="358.5" y2="352.8" stroke="#e29a84" stroke-width="1.5" opacity="0.26"/>
<line x1="363.8" y1="252.1" x2="400.6" y2="242.4" stroke="#f6cdb4" stroke-width="2.2" opacity="0.21"/>
<line x1="396.5" y1="300.5" x2="446.8" y2="322.4" stroke="#f8d8c4" stroke-width="1.8" opacity="0.28"/>
<line x1="262.3" y1="185.1" x2="219.6" y2="120.2" stroke="#f8d8c4" stroke-width="2.0" opacity="0.27"/>
<line x1="335.8" y1="323.1" x2="357.9" y2="384.7" stroke="#f8d8c4" stroke-width="1.0" opacity="0.18"/>
<line x1="367.3" y1="354.3" x2="413.9" y2="433.9" stroke="#f3c0a4" stroke-width="0.9" opacity="0.22"/>
<line x1="317.0" y1="212.7" x2="320.7" y2="112.4" stroke="#f6cdb4" stroke-width="1.3" opacity="0.20"/>
<line x1="361.0" y1="184.8" x2="401.2" y2="114.8" stroke="#dc8c78" stroke-width="1.6" opacity="0.20"/>
<line x1="281.2" y1="199.5" x2="250.7" y2="140.4" stroke="#f6cdb4" stroke-width="0.8" opacity="0.30"/>
<line x1="254.1" y1="281.9" x2="188.6" y2="300.0" stroke="#e29a84" stroke-width="2.0" opacity="0.27"/>
<line x1="279.9" y1="296.8" x2="238.1" y2="334.5" stroke="#dc8c78" stroke-width="0.9" opacity="0.20"/>
<line x1="273.0" y1="261.6" x2="205.0" y2="256.2" stroke="#f6cdb4" stroke-width="2.1" opacity="0.18"/>
<line x1="306.9" y1="211.0" x2="293.0" y2="118.7" stroke="#e29a84" stroke-width="1.7" opacity="0.26"/>
<line x1="357.7" y1="273.8" x2="423.7" y2="287.3" stroke="#f6cdb4" stroke-width="1.1" opacity="0.30"/>
<line x1="227.3" y1="270.6" x2="142.4" y2="276.0" stroke="#f3c0a4" stroke-width="1.8" opacity="0.25"/>
<line x1="329.7" y1="365.4" x2="341.8" y2="447.3" stroke="#dc8c78" stroke-width="1.0" opacity="0.28"/>
<line x1="302.4" y1="364.7" x2="296.3" y2="412.4" stroke="#f8d8c4" stroke-width="2.2" opacity="0.21"/>
<line x1="255.7" y1="216.7" x2="218.6" y2="186.5" stroke="#dc8c78" stroke-width="0.9" opacity="0.15"/>
<line x1="361.0" y1="357.1" x2="398.4" y2="432.1" stroke="#e29a84" stroke-width="1.0" opacity="0.26"/>
<line x1="364.9" y1="320.0" x2="416.0" y2="376.4" stroke="#dc8c78" stroke-width="2.2" opacity="0.20"/>
<line x1="241.2" y1="252.5" x2="158.2" y2="238.4" stroke="#dc8c78" stroke-width="2.2" opacity="0.23"/>
<line x1="252.1" y1="326.6" x2="216.0" y2="361.9" stroke="#dc8c78" stroke-width="1.6" opacity="0.18"/>
<line x1="320.7" y1="187.7" x2="324.4" y2="137.1" stroke="#f6cdb4" stroke-width="1.2" opacity="0.21"/>
<line x1="282.5" y1="367.6" x2="252.2" y2="463.1" stroke="#dc8c78" stroke-width="1.8" opacity="0.25"/>
<line x1="324.7" y1="332.1" x2="336.6" y2="415.2" stroke="#e29a84" stroke-width="1.5" opacity="0.28"/>
<line x1="349.7" y1="312.4" x2="396.4" y2="376.1" stroke="#f6cdb4" stroke-width="0.9" opacity="0.22"/>
<line x1="293.1" y1="343.0" x2="272.5" y2="416.2" stroke="#e29a84" stroke-width="1.6" opacity="0.23"/>
<line x1="335.2" y1="350.3" x2="351.8" y2="420.4" stroke="#f3c0a4" stroke-width="0.8" opacity="0.26"/>
<line x1="298.5" y1="189.6" x2="289.6" y2="148.8" stroke="#f3c0a4" stroke-width="2.0" opacity="0.26"/>
<line x1="271.6" y1="303.4" x2="246.5" y2="325.6" stroke="#f8d8c4" stroke-width="2.0" opacity="0.23"/>
<line x1="253.3" y1="223.5" x2="199.5" y2="187.4" stroke="#e29a84" stroke-width="1.1" opacity="0.28"/>
<line x1="379.0" y1="287.7" x2="431.3" y2="306.3" stroke="#f3c0a4" stroke-width="1.0" opacity="0.28"/>
<line x1="370.8" y1="319.1" x2="425.7" y2="372.2" stroke="#f3c0a4" stroke-width="1.0" opacity="0.16"/>
<line x1="264.2" y1="213.7" x2="210.9" y2="159.9" stroke="#f8d8c4" stroke-width="1.0" opacity="0.18"/>
<line x1="301.8" y1="315.4" x2="275.9" y2="414.5" stroke="#e29a84" stroke-width="1.8" opacity="0.12"/>
<line x1="358.2" y1="184.9" x2="390.6" y2="124.9" stroke="#e29a84" stroke-width="1.0" opacity="0.30"/>
<line x1="309.8" y1="355.0" x2="307.1" y2="401.6" stroke="#dc8c78" stroke-width="1.8" opacity="0.17"/>
<line x1="256.7" y1="239.4" x2="183.8" y2="207.3" stroke="#f8d8c4" stroke-width="2.2" opacity="0.17"/>
<line x1="391.3" y1="219.1" x2="423.0" y2="200.0" stroke="#f8d8c4" stroke-width="0.8" opacity="0.17"/>
<line x1="321.7" y1="361.1" x2="329.3" y2="469.1" stroke="#dc8c78" stroke-width="1.1" opacity="0.19"/>
<line x1="267.6" y1="221.2" x2="202.3" y2="161.0" stroke="#f8d8c4" stroke-width="1.5" opacity="0.27"/>
<line x1="288.2" y1="167.0" x2="270.0" y2="100.4" stroke="#f3c0a4" stroke-width="1.6" opacity="0.18"/>
<line x1="331.8" y1="351.4" x2="340.0" y2="393.5" stroke="#f3c0a4" stroke-width="1.0" opacity="0.12"/>
<line x1="382.7" y1="332.1" x2="422.5" y2="371.5" stroke="#f3c0a4" stroke-width="1.8" opacity="0.13"/>
<line x1="361.6" y1="333.9" x2="382.6" y2="365.0" stroke="#f6cdb4" stroke-width="1.8" opacity="0.13"/>
<line x1="266.0" y1="225.9" x2="199.4" y2="172.7" stroke="#f8d8c4" stroke-width="2.0" opacity="0.13"/>
<line x1="372.8" y1="185.9" x2="431.2" y2="105.9" stroke="#f6cdb4" stroke-width="1.1" opacity="0.16"/>
<line x1="400.5" y1="288.1" x2="483.2" y2="310.4" stroke="#f6cdb4" stroke-width="2.0" opacity="0.23"/>
<line x1="304.5" y1="319.7" x2="296.2" y2="363.3" stroke="#f3c0a4" stroke-width="1.2" opacity="0.18"/>
<line x1="311.0" y1="336.8" x2="305.0" y2="443.7" stroke="#f6cdb4" stroke-width="1.8" opacity="0.19"/>
<line x1="277.0" y1="364.5" x2="251.1" y2="432.5" stroke="#dc8c78" stroke-width="1.7" opacity="0.13"/>
<line x1="262.2" y1="305.2" x2="197.0" y2="354.9" stroke="#dc8c78" stroke-width="1.5" opacity="0.13"/>
<line x1="245.7" y1="226.8" x2="172.8" y2="186.6" stroke="#f8d8c4" stroke-width="1.9" opacity="0.15"/>
<line x1="365.1" y1="265.5" x2="440.8" y2="266.3" stroke="#f6cdb4" stroke-width="0.8" opacity="0.21"/>
<line x1="235.3" y1="270.3" x2="194.3" y2="273.1" stroke="#e29a84" stroke-width="1.6" opacity="0.29"/>
<line x1="246.4" y1="256.8" x2="207.1" y2="252.1" stroke="#f3c0a4" stroke-width="2.1" opacity="0.16"/>
<line x1="358.9" y1="358.8" x2="397.2" y2="440.8" stroke="#e29a84" stroke-width="1.9" opacity="0.25"/>
<line x1="331.4" y1="178.1" x2="343.2" y2="115.7" stroke="#e29a84" stroke-width="2.1" opacity="0.28"/>
<line x1="313.2" y1="188.7" x2="311.1" y2="102.8" stroke="#dc8c78" stroke-width="1.1" opacity="0.17"/>
<line x1="367.9" y1="217.7" x2="410.8" y2="179.3" stroke="#f3c0a4" stroke-width="2.1" opacity="0.14"/>
<line x1="253.2" y1="213.1" x2="198.1" y2="166.9" stroke="#f6cdb4" stroke-width="1.3" opacity="0.18"/>
<line x1="361.0" y1="350.1" x2="400.1" y2="422.2" stroke="#dc8c78" stroke-width="1.0" opacity="0.20"/>
<line x1="325.1" y1="179.7" x2="330.6" y2="133.3" stroke="#e29a84" stroke-width="1.7" opacity="0.25"/>
<line x1="261.7" y1="261.8" x2="186.5" y2="257.2" stroke="#f8d8c4" stroke-width="1.0" opacity="0.15"/>
<line x1="315.9" y1="335.4" x2="316.8" y2="412.1" stroke="#f3c0a4" stroke-width="1.1" opacity="0.29"/>
<line x1="310.2" y1="374.5" x2="305.3" y2="486.5" stroke="#f3c0a4" stroke-width="2.1" opacity="0.14"/>
<line x1="248.4" y1="339.1" x2="190.4" y2="403.7" stroke="#dc8c78" stroke-width="1.4" opacity="0.16"/>
<line x1="285.7" y1="221.8" x2="258.2" y2="181.4" stroke="#e29a84" stroke-width="1.4" opacity="0.12"/>
<line x1="352.7" y1="203.7" x2="379.1" y2="160.8" stroke="#dc8c78" stroke-width="1.4" opacity="0.15"/>
<line x1="267.1" y1="219.3" x2="207.9" y2="162.9" stroke="#e29a84" stroke-width="1.8" opacity="0.23"/>
<line x1="265.5" y1="182.8" x2="223.3" y2="112.9" stroke="#f8d8c4" stroke-width="2.0" opacity="0.24"/>
<line x1="275.5" y1="204.1" x2="244.8" y2="156.8" stroke="#f6cdb4" stroke-width="2.1" opacity="0.16"/>
<line x1="253.8" y1="320.5" x2="221.9" y2="349.4" stroke="#e29a84" stroke-width="1.5" opacity="0.12"/>
<line x1="356.5" y1="201.0" x2="400.5" y2="133.4" stroke="#f3c0a4" stroke-width="2.1" opacity="0.18"/>
<line x1="396.4" y1="271.8" x2="480.7" y2="278.9" stroke="#f6cdb4" stroke-width="0.9" opacity="0.22"/>
<line x1="357.0" y1="348.8" x2="403.0" y2="440.3" stroke="#f8d8c4" stroke-width="1.3" opacity="0.27"/>
<line x1="266.6" y1="281.8" x2="210.2" y2="301.5" stroke="#f6cdb4" stroke-width="1.7" opacity="0.27"/>
<line x1="255.0" y1="254.7" x2="169.0" y2="240.0" stroke="#f3c0a4" stroke-width="2.2" opacity="0.15"/>
<line x1="228.7" y1="255.6" x2="155.2" y2="247.6" stroke="#f8d8c4" stroke-width="1.3" opacity="0.13"/>
<line x1="305.9" y1="339.1" x2="301.2" y2="377.2" stroke="#e29a84" stroke-width="2.1" opacity="0.23"/>
<line x1="283.6" y1="188.2" x2="267.0" y2="147.5" stroke="#dc8c78" stroke-width="1.8" opacity="0.29"/>
<line x1="264.8" y1="254.2" x2="187.8" y2="237.7" stroke="#e29a84" stroke-width="1.4" opacity="0.15"/>
<line x1="354.2" y1="241.7" x2="424.6" y2="199.9" stroke="#f3c0a4" stroke-width="1.5" opacity="0.22"/>
<line x1="328.3" y1="374.0" x2="336.0" y2="437.2" stroke="#e29a84" stroke-width="1.5" opacity="0.17"/>
<line x1="270.9" y1="247.7" x2="194.5" y2="217.9" stroke="#dc8c78" stroke-width="1.9" opacity="0.16"/>
<line x1="293.9" y1="175.9" x2="268.6" y2="69.2" stroke="#f3c0a4" stroke-width="1.5" opacity="0.26"/>
<line x1="332.5" y1="196.0" x2="353.5" y2="113.5" stroke="#dc8c78" stroke-width="1.5" opacity="0.20"/>
<line x1="267.5" y1="195.7" x2="233.9" y2="146.6" stroke="#dc8c78" stroke-width="2.0" opacity="0.13"/>
<line x1="355.1" y1="170.9" x2="391.3" y2="85.9" stroke="#f3c0a4" stroke-width="1.5" opacity="0.18"/>
<line x1="251.7" y1="219.9" x2="214.7" y2="193.5" stroke="#f6cdb4" stroke-width="1.7" opacity="0.17"/>
<line x1="352.9" y1="300.1" x2="388.2" y2="332.8" stroke="#e29a84" stroke-width="1.3" opacity="0.15"/>
<line x1="380.6" y1="208.6" x2="413.6" y2="180.2" stroke="#f8d8c4" stroke-width="2.2" opacity="0.14"/>
<line x1="370.0" y1="216.2" x2="425.5" y2="166.8" stroke="#dc8c78" stroke-width="1.1" opacity="0.24"/>
<line x1="239.3" y1="246.5" x2="184.1" y2="232.9" stroke="#f6cdb4" stroke-width="1.6" opacity="0.17"/>
<line x1="319.7" y1="323.4" x2="325.6" y2="397.5" stroke="#f6cdb4" stroke-width="1.5" opacity="0.28"/>
<line x1="299.0" y1="202.7" x2="286.7" y2="155.3" stroke="#f8d8c4" stroke-width="2.0" opacity="0.12"/>
<line x1="349.2" y1="198.3" x2="383.6" y2="131.2" stroke="#dc8c78" stroke-width="2.0" opacity="0.19"/>
<line x1="238.2" y1="318.7" x2="208.0" y2="339.8" stroke="#dc8c78" stroke-width="1.7" opacity="0.13"/>
<line x1="257.8" y1="206.1" x2="191.5" y2="137.8" stroke="#dc8c78" stroke-width="1.9" opacity="0.14"/>
<line x1="237.5" y1="274.7" x2="199.0" y2="279.5" stroke="#f3c0a4" stroke-width="1.8" opacity="0.23"/>
</g>
<path d="M228.0,240.0 C230.3,226.7 234.3,212.5 240.0,200.0 C245.7,187.5 252.0,174.0 262.0,165.0 C272.0,156.0 286.2,149.8 300.0,146.0 C313.8,142.2 331.7,138.0 345.0,142.0 C358.3,146.0 372.2,159.5 380.0,170.0 C387.8,180.5 392.0,194.7 392.0,205.0 C392.0,215.3 388.7,224.5 380.0,232.0 C371.3,239.5 346.7,233.7 340.0,250.0 C333.3,266.3 335.7,313.3 340.0,330.0 C344.3,346.7 361.7,342.5 366.0,350.0 C370.3,357.5 370.3,368.0 366.0,375.0 C361.7,382.0 351.0,389.2 340.0,392.0 C329.0,394.8 312.5,394.0 300.0,392.0 C287.5,390.0 275.0,387.8 265.0,380.0 C255.0,372.2 246.8,356.7 240.0,345.0 C233.2,333.3 226.3,320.8 224.0,310.0 C221.7,299.2 225.3,291.7 226.0,280.0 C226.7,268.3 225.7,253.3 228.0,240.0Z" fill="#e39488" filter="url(#b6)" opacity="0.55"/>
<path d="M308.0,228.0 L239.0,203.0 C239.8,199.8 241.2,190.0 244.0,184.0 C246.8,178.0 251.3,171.5 256.0,167.0 C260.7,162.5 266.2,159.0 272.0,157.0 C277.8,155.0 286.7,152.8 291.0,155.0 C295.3,157.2 295.7,162.5 298.0,170.0 C300.3,177.5 303.8,195.0 305.0,200.0Z" fill="url(#gp16)" filter="url(#b2)" opacity="1.00"/>
<g clip-path="url(#cp17)" opacity="1.00"><g filter="url(#b07)">
<path d="M294.7,213.9 L257.3,174.4 L270.7,164.2 L298.2,211.2 Z" fill="#ae4a4a" opacity="0.27"/>
<path d="M304.4,211.7 L293.6,162.9 L297.7,171.5 L305.4,213.9 Z" fill="#ae4a4a" opacity="0.29"/>
<path d="M305.0,213.2 L296.2,168.8 L299.7,178.5 L305.9,215.7 Z" fill="#ae4a4a" opacity="0.37"/>
<path d="M291.5,213.5 L249.5,176.4 L258.2,165.8 L294.0,210.5 Z" fill="#ae4a4a" opacity="0.39"/>
<path d="M293.3,212.8 L255.3,173.5 L263.4,166.2 L295.6,210.8 Z" fill="#ae4a4a" opacity="0.26"/>
<path d="M303.2,205.7 L294.2,164.2 L297.4,171.1 L304.3,208.1 Z" fill="#ae4a4a" opacity="0.34"/>
<path d="M300.1,224.4 L239.0,196.6 L239.8,193.4 L300.2,224.1 Z" fill="#e8a8a0" opacity="0.12"/>
<path d="M299.7,201.3 L287.3,161.8 L291.6,161.4 L301.4,201.1 Z" fill="#e8a8a0" opacity="0.26"/>
<path d="M302.4,209.2 L287.6,160.0 L292.0,159.5 L303.6,209.1 Z" fill="#e8a8a0" opacity="0.25"/>
<path d="M288.8,212.6 L263.4,192.2 L265.4,189.3 L289.6,211.3 Z" fill="#e8a8a0" opacity="0.20"/>
<path d="M284.8,211.1 L249.6,185.6 L250.7,184.0 L285.2,210.5 Z" fill="#e8a8a0" opacity="0.26"/>
<path d="M295.9,212.5 L269.3,178.3 L273.0,176.0 L297.1,211.8 Z" fill="#e8a8a0" opacity="0.26"/>
<line x1="296.3" y1="215.1" x2="266.5" y2="182.1" stroke="#e8a8a0" stroke-width="1.1" opacity="0.29"/>
<line x1="306.6" y1="218.4" x2="303.3" y2="194.9" stroke="#ae4a4a" stroke-width="1.3" opacity="0.26"/>
<line x1="305.2" y1="214.3" x2="299.1" y2="184.2" stroke="#e8a8a0" stroke-width="0.9" opacity="0.30"/>
<line x1="305.9" y1="212.2" x2="304.0" y2="198.1" stroke="#e8a8a0" stroke-width="1.1" opacity="0.17"/>
<line x1="293.3" y1="199.0" x2="275.6" y2="164.0" stroke="#e8a8a0" stroke-width="0.6" opacity="0.32"/>
<line x1="279.6" y1="210.6" x2="263.4" y2="200.7" stroke="#ae4a4a" stroke-width="0.7" opacity="0.15"/>
<line x1="306.3" y1="218.9" x2="296.8" y2="169.4" stroke="#ae4a4a" stroke-width="1.4" opacity="0.24"/>
<line x1="304.6" y1="208.7" x2="300.6" y2="186.3" stroke="#ae4a4a" stroke-width="0.9" opacity="0.29"/>
<line x1="297.6" y1="205.3" x2="275.1" y2="156.2" stroke="#ae4a4a" stroke-width="1.2" opacity="0.15"/>
<line x1="286.7" y1="219.7" x2="241.1" y2="201.8" stroke="#ae4a4a" stroke-width="1.0" opacity="0.23"/>
<line x1="299.4" y1="196.5" x2="288.4" y2="156.5" stroke="#e8a8a0" stroke-width="0.7" opacity="0.24"/>
<line x1="302.8" y1="211.7" x2="286.8" y2="161.4" stroke="#ae4a4a" stroke-width="1.5" opacity="0.18"/>
<line x1="307.5" y1="224.1" x2="303.8" y2="195.3" stroke="#e8a8a0" stroke-width="0.9" opacity="0.35"/>
<line x1="306.3" y1="215.4" x2="304.0" y2="197.5" stroke="#e8a8a0" stroke-width="0.9" opacity="0.31"/>
<line x1="302.2" y1="202.1" x2="294.2" y2="165.8" stroke="#e8a8a0" stroke-width="1.3" opacity="0.15"/>
<line x1="283.4" y1="211.4" x2="251.3" y2="189.7" stroke="#ae4a4a" stroke-width="0.9" opacity="0.32"/>
<line x1="299.9" y1="198.3" x2="288.8" y2="157.2" stroke="#e8a8a0" stroke-width="1.2" opacity="0.23"/>
<line x1="301.7" y1="221.7" x2="251.1" y2="171.5" stroke="#ae4a4a" stroke-width="0.9" opacity="0.19"/>
<line x1="305.3" y1="209.5" x2="303.7" y2="198.7" stroke="#e8a8a0" stroke-width="1.2" opacity="0.38"/>
<line x1="303.9" y1="222.7" x2="265.0" y2="173.4" stroke="#e8a8a0" stroke-width="0.8" opacity="0.34"/>
<line x1="307.3" y1="222.8" x2="303.6" y2="195.5" stroke="#e8a8a0" stroke-width="1.0" opacity="0.33"/>
<line x1="306.5" y1="217.5" x2="304.7" y2="203.8" stroke="#e8a8a0" stroke-width="1.0" opacity="0.17"/>
<line x1="304.9" y1="209.4" x2="301.7" y2="189.6" stroke="#e8a8a0" stroke-width="1.1" opacity="0.21"/>
<line x1="306.6" y1="219.4" x2="301.4" y2="186.7" stroke="#ae4a4a" stroke-width="0.8" opacity="0.20"/>
<line x1="287.4" y1="212.6" x2="258.5" y2="191.0" stroke="#e8a8a0" stroke-width="0.9" opacity="0.34"/>
<line x1="306.9" y1="221.2" x2="300.8" y2="181.6" stroke="#e8a8a0" stroke-width="0.9" opacity="0.18"/>
</g></g>
<path d="M326.0,234.0 L299.0,156.0 C300.2,154.9 302.2,151.2 306.0,149.5 C309.8,147.8 316.0,146.6 322.0,146.0 C328.0,145.4 336.3,145.2 342.0,146.0 C347.7,146.8 352.7,148.5 356.0,150.5 C359.3,152.5 360.7,154.8 362.0,158.0 C363.3,161.2 364.7,164.3 364.0,170.0 C363.3,175.7 361.0,184.7 358.0,192.0 C355.0,199.3 348.0,210.3 346.0,214.0Z" fill="url(#gp18)" filter="url(#b2)" opacity="1.00"/>
<g clip-path="url(#cp19)" opacity="1.00"><g filter="url(#b07)">
<path d="M335.7,213.5 L357.8,166.5 L358.3,182.2 L335.8,218.2 Z" fill="#ae4a4a" opacity="0.23"/>
<path d="M335.4,204.6 L353.5,148.2 L359.6,153.1 L337.5,206.3 Z" fill="#ae4a4a" opacity="0.21"/>
<path d="M333.2,207.8 L347.3,156.4 L358.0,164.3 L336.8,210.5 Z" fill="#ae4a4a" opacity="0.25"/>
<path d="M337.0,219.5 L353.7,197.4 L346.4,210.9 L334.1,224.8 Z" fill="#ae4a4a" opacity="0.36"/>
<path d="M322.0,220.5 L306.6,168.3 L313.8,164.4 L323.5,219.7 Z" fill="#ae4a4a" opacity="0.24"/>
<path d="M336.4,205.9 L357.5,149.1 L364.8,166.7 L338.8,211.8 Z" fill="#ae4a4a" opacity="0.29"/>
<path d="M322.2,219.6 L303.3,147.9 L318.6,143.2 L324.8,218.8 Z" fill="#ae4a4a" opacity="0.28"/>
<path d="M326.7,200.1 L327.8,151.8 L332.0,151.8 L328.5,200.1 Z" fill="#e8a8a0" opacity="0.24"/>
<path d="M333.2,200.2 L345.5,142.7 L349.5,144.0 L334.7,200.7 Z" fill="#e8a8a0" opacity="0.15"/>
<path d="M325.6,218.8 L323.5,144.6 L325.6,144.6 L325.9,218.8 Z" fill="#e8a8a0" opacity="0.17"/>
<path d="M335.4,222.3 L353.3,199.8 L350.7,204.6 L334.5,223.9 Z" fill="#e8a8a0" opacity="0.13"/>
<path d="M329.8,227.3 L362.3,170.0 L361.6,176.1 L329.7,228.0 Z" fill="#e8a8a0" opacity="0.13"/>
<path d="M332.9,225.7 L351.8,202.8 L349.5,207.1 L332.2,226.8 Z" fill="#e8a8a0" opacity="0.17"/>
<path d="M324.4,226.0 L311.6,160.0 L314.5,159.3 L324.8,226.0 Z" fill="#e8a8a0" opacity="0.17"/>
<path d="M323.4,209.0 L319.7,172.8 L321.8,172.3 L324.3,208.9 Z" fill="#e8a8a0" opacity="0.15"/>
<line x1="330.5" y1="227.2" x2="349.3" y2="198.5" stroke="#ae4a4a" stroke-width="0.7" opacity="0.30"/>
<line x1="332.5" y1="203.5" x2="343.8" y2="150.2" stroke="#ae4a4a" stroke-width="1.4" opacity="0.25"/>
<line x1="324.0" y1="227.6" x2="300.1" y2="151.0" stroke="#e8a8a0" stroke-width="1.3" opacity="0.27"/>
<line x1="330.1" y1="227.1" x2="354.0" y2="186.3" stroke="#ae4a4a" stroke-width="0.8" opacity="0.26"/>
<line x1="332.1" y1="226.6" x2="345.1" y2="210.8" stroke="#e8a8a0" stroke-width="1.0" opacity="0.19"/>
<line x1="328.1" y1="200.0" x2="330.2" y2="165.0" stroke="#ae4a4a" stroke-width="0.8" opacity="0.18"/>
<line x1="333.0" y1="213.6" x2="346.5" y2="174.3" stroke="#e8a8a0" stroke-width="0.7" opacity="0.37"/>
<line x1="330.9" y1="226.0" x2="356.9" y2="184.0" stroke="#e8a8a0" stroke-width="0.7" opacity="0.34"/>
<line x1="330.9" y1="228.8" x2="342.5" y2="216.4" stroke="#ae4a4a" stroke-width="1.4" opacity="0.17"/>
<line x1="329.2" y1="198.1" x2="331.2" y2="174.8" stroke="#e8a8a0" stroke-width="1.5" opacity="0.19"/>
<line x1="334.6" y1="219.7" x2="358.2" y2="180.2" stroke="#e8a8a0" stroke-width="0.7" opacity="0.15"/>
<line x1="333.9" y1="223.8" x2="348.1" y2="205.6" stroke="#e8a8a0" stroke-width="0.6" opacity="0.25"/>
<line x1="326.8" y1="223.2" x2="332.1" y2="147.1" stroke="#e8a8a0" stroke-width="1.3" opacity="0.33"/>
<line x1="325.6" y1="226.8" x2="323.1" y2="173.8" stroke="#e8a8a0" stroke-width="1.3" opacity="0.34"/>
<line x1="325.3" y1="224.8" x2="319.6" y2="153.8" stroke="#e8a8a0" stroke-width="1.3" opacity="0.30"/>
<line x1="325.7" y1="227.3" x2="322.6" y2="151.0" stroke="#e8a8a0" stroke-width="1.4" opacity="0.38"/>
<line x1="332.5" y1="219.2" x2="352.2" y2="174.4" stroke="#e8a8a0" stroke-width="1.4" opacity="0.27"/>
<line x1="315.4" y1="201.1" x2="304.5" y2="167.3" stroke="#e8a8a0" stroke-width="0.8" opacity="0.20"/>
<line x1="332.0" y1="226.3" x2="347.8" y2="205.9" stroke="#e8a8a0" stroke-width="1.1" opacity="0.36"/>
<line x1="333.0" y1="196.8" x2="343.1" y2="142.8" stroke="#ae4a4a" stroke-width="0.7" opacity="0.33"/>
<line x1="338.5" y1="217.8" x2="350.5" y2="202.1" stroke="#e8a8a0" stroke-width="1.4" opacity="0.29"/>
<line x1="330.4" y1="228.7" x2="344.3" y2="212.1" stroke="#e8a8a0" stroke-width="1.0" opacity="0.28"/>
<line x1="335.4" y1="213.6" x2="349.2" y2="183.4" stroke="#ae4a4a" stroke-width="0.8" opacity="0.20"/>
<line x1="323.6" y1="221.2" x2="310.1" y2="150.7" stroke="#ae4a4a" stroke-width="0.6" opacity="0.38"/>
<line x1="331.3" y1="226.2" x2="359.8" y2="184.1" stroke="#e8a8a0" stroke-width="1.1" opacity="0.28"/>
<line x1="329.2" y1="229.0" x2="361.5" y2="178.9" stroke="#e8a8a0" stroke-width="0.8" opacity="0.22"/>
<line x1="334.5" y1="210.2" x2="354.6" y2="154.3" stroke="#ae4a4a" stroke-width="0.7" opacity="0.25"/>
<line x1="322.6" y1="209.3" x2="314.2" y2="148.2" stroke="#ae4a4a" stroke-width="1.2" opacity="0.27"/>
<line x1="335.2" y1="197.0" x2="340.1" y2="177.3" stroke="#e8a8a0" stroke-width="0.9" opacity="0.26"/>
<line x1="333.8" y1="224.0" x2="350.2" y2="203.0" stroke="#ae4a4a" stroke-width="1.3" opacity="0.23"/>
<line x1="326.3" y1="217.8" x2="327.1" y2="161.5" stroke="#e8a8a0" stroke-width="1.3" opacity="0.38"/>
<line x1="338.3" y1="218.0" x2="347.2" y2="206.4" stroke="#e8a8a0" stroke-width="0.7" opacity="0.32"/>
<line x1="332.4" y1="199.0" x2="340.7" y2="153.5" stroke="#ae4a4a" stroke-width="0.9" opacity="0.28"/>
<line x1="321.4" y1="215.2" x2="308.6" y2="162.3" stroke="#ae4a4a" stroke-width="0.8" opacity="0.26"/>
</g></g>
<path d="M334.0,236.0 L350.0,200.0 C351.0,197.7 352.7,188.3 356.0,186.0 C359.3,183.7 365.3,185.2 370.0,186.0 C374.7,186.8 380.5,188.0 384.0,191.0 C387.5,194.0 390.5,199.3 391.0,204.0 C391.5,208.7 390.2,214.7 387.0,219.0 C383.8,223.3 377.8,226.8 372.0,230.0 C366.2,233.2 355.3,236.7 352.0,238.0Z" fill="url(#gp20)" filter="url(#b2)" opacity="1.00"/>
<g clip-path="url(#cp21)" opacity="1.00"><g filter="url(#b07)">
<path d="M341.2,228.5 L380.9,187.1 L392.6,200.8 L342.9,230.6 Z" fill="#ae4a4a" opacity="0.29"/>
<path d="M344.0,234.5 L371.4,230.5 L364.4,233.3 L342.1,235.3 Z" fill="#ae4a4a" opacity="0.37"/>
<path d="M342.9,231.2 L380.6,211.1 L377.5,222.2 L342.3,233.4 Z" fill="#ae4a4a" opacity="0.36"/>
<path d="M337.3,228.6 L351.1,197.2 L355.2,194.6 L338.0,228.1 Z" fill="#ae4a4a" opacity="0.25"/>
<path d="M347.8,219.4 L375.6,186.1 L384.1,189.1 L350.6,220.4 Z" fill="#ae4a4a" opacity="0.21"/>
<path d="M348.2,232.9 L372.4,227.7 L366.4,231.4 L346.0,234.3 Z" fill="#ae4a4a" opacity="0.32"/>
<path d="M348.0,227.2 L378.2,208.3 L378.9,212.1 L348.2,228.4 Z" fill="#e8a8a0" opacity="0.28"/>
<path d="M344.1,233.2 L379.7,223.1 L376.1,225.7 L343.3,233.7 Z" fill="#e8a8a0" opacity="0.17"/>
<path d="M339.5,227.1 L365.3,185.4 L368.6,185.4 L340.1,227.1 Z" fill="#e8a8a0" opacity="0.22"/>
<path d="M336.4,233.0 L366.3,196.2 L369.1,197.2 L336.6,233.1 Z" fill="#e8a8a0" opacity="0.27"/>
<path d="M339.2,226.6 L362.0,184.8 L365.9,184.8 L339.9,226.6 Z" fill="#e8a8a0" opacity="0.29"/>
<line x1="344.9" y1="214.5" x2="353.8" y2="197.0" stroke="#e8a8a0" stroke-width="1.0" opacity="0.22"/>
<line x1="337.3" y1="236.2" x2="352.5" y2="237.4" stroke="#ae4a4a" stroke-width="1.1" opacity="0.30"/>
<line x1="348.4" y1="221.5" x2="373.4" y2="196.2" stroke="#e8a8a0" stroke-width="0.9" opacity="0.34"/>
<line x1="359.3" y1="222.1" x2="386.3" y2="207.2" stroke="#ae4a4a" stroke-width="1.0" opacity="0.32"/>
<line x1="337.0" y1="229.5" x2="354.4" y2="191.3" stroke="#e8a8a0" stroke-width="1.3" opacity="0.28"/>
<line x1="349.5" y1="232.2" x2="376.7" y2="225.6" stroke="#e8a8a0" stroke-width="0.8" opacity="0.31"/>
<line x1="351.7" y1="229.7" x2="377.6" y2="220.6" stroke="#ae4a4a" stroke-width="0.6" opacity="0.34"/>
<line x1="347.7" y1="230.0" x2="390.8" y2="211.1" stroke="#e8a8a0" stroke-width="0.7" opacity="0.36"/>
<line x1="345.5" y1="221.3" x2="360.8" y2="201.9" stroke="#e8a8a0" stroke-width="1.2" opacity="0.22"/>
<line x1="342.9" y1="227.2" x2="374.0" y2="196.2" stroke="#e8a8a0" stroke-width="0.9" opacity="0.23"/>
<line x1="349.7" y1="233.0" x2="368.2" y2="229.5" stroke="#e8a8a0" stroke-width="0.9" opacity="0.28"/>
<line x1="342.7" y1="234.5" x2="365.1" y2="230.7" stroke="#ae4a4a" stroke-width="0.7" opacity="0.38"/>
<line x1="350.8" y1="217.7" x2="376.8" y2="189.3" stroke="#e8a8a0" stroke-width="0.8" opacity="0.26"/>
<line x1="335.5" y1="235.9" x2="352.4" y2="234.8" stroke="#e8a8a0" stroke-width="1.4" opacity="0.22"/>
<line x1="343.9" y1="230.8" x2="384.6" y2="209.5" stroke="#e8a8a0" stroke-width="1.1" opacity="0.28"/>
<line x1="344.2" y1="233.0" x2="373.4" y2="224.4" stroke="#e8a8a0" stroke-width="1.2" opacity="0.26"/>
<line x1="335.3" y1="233.1" x2="346.2" y2="208.5" stroke="#e8a8a0" stroke-width="0.9" opacity="0.25"/>
<line x1="349.5" y1="228.5" x2="389.7" y2="209.2" stroke="#e8a8a0" stroke-width="1.0" opacity="0.26"/>
<line x1="358.1" y1="227.1" x2="376.3" y2="220.4" stroke="#e8a8a0" stroke-width="1.3" opacity="0.17"/>
<line x1="343.4" y1="227.0" x2="366.4" y2="204.8" stroke="#e8a8a0" stroke-width="1.1" opacity="0.18"/>
<line x1="343.5" y1="235.2" x2="362.6" y2="233.6" stroke="#e8a8a0" stroke-width="1.4" opacity="0.26"/>
<line x1="338.1" y1="227.7" x2="355.1" y2="193.3" stroke="#e8a8a0" stroke-width="1.4" opacity="0.25"/>
<line x1="339.2" y1="224.3" x2="347.0" y2="206.7" stroke="#e8a8a0" stroke-width="1.5" opacity="0.31"/>
<line x1="337.8" y1="227.3" x2="351.3" y2="197.0" stroke="#e8a8a0" stroke-width="1.2" opacity="0.29"/>
<line x1="339.6" y1="235.7" x2="352.5" y2="234.9" stroke="#ae4a4a" stroke-width="1.2" opacity="0.20"/>
<line x1="349.2" y1="226.9" x2="376.5" y2="210.6" stroke="#e8a8a0" stroke-width="1.4" opacity="0.28"/>
</g></g>
<path d="M291.0,259.0 L262.0,247.0 C256.7,246.3 239.3,243.7 230.0,243.0 C220.7,242.3 210.5,239.8 206.0,243.0 C201.5,246.2 202.3,256.2 203.0,262.0 C203.7,267.8 207.3,273.5 210.0,278.0 C212.7,282.5 210.7,288.5 219.0,289.0 C227.3,289.5 248.3,283.7 260.0,281.0 C271.7,278.3 284.2,274.3 289.0,273.0Z" fill="url(#gp22)" filter="url(#b2)" opacity="1.00"/>
<g clip-path="url(#cp23)" opacity="1.00"><g filter="url(#b07)">
<path d="M281.9,256.4 L243.9,245.3 L230.7,244.1 L279.4,256.1 Z" fill="#d0645e" opacity="0.40"/>
<path d="M261.4,260.7 L210.6,263.5 L214.7,273.0 L262.9,264.2 Z" fill="#d0645e" opacity="0.27"/>
<path d="M267.0,260.9 L209.8,265.3 L211.9,269.9 L267.6,262.2 Z" fill="#f8d8cc" opacity="0.40"/>
<path d="M279.7,262.4 L235.8,275.5 L237.5,277.5 L280.0,262.8 Z" fill="#f8d8cc" opacity="0.26"/>
<path d="M285.8,261.1 L235.7,281.9 L241.7,280.9 L286.4,261.1 Z" fill="#f8d8cc" opacity="0.44"/>
<path d="M277.3,264.5 L220.7,287.2 L223.0,287.7 L277.7,264.6 Z" fill="#f8d8cc" opacity="0.26"/>
<path d="M286.3,257.3 L263.5,249.2 L261.2,248.9 L286.0,257.3 Z" fill="#f8d8cc" opacity="0.26"/>
<path d="M263.9,267.6 L225.1,279.9 L227.2,282.4 L264.8,268.6 Z" fill="#f8d8cc" opacity="0.20"/>
<path d="M256.7,258.5 L227.8,258.1 L227.3,261.1 L256.4,260.2 Z" fill="#f8d8cc" opacity="0.42"/>
<path d="M278.5,264.5 L237.2,282.9 L242.9,281.8 L279.8,264.3 Z" fill="#f8d8cc" opacity="0.35"/>
<path d="M286.3,261.2 L246.7,279.8 L248.8,279.4 L286.5,261.2 Z" fill="#f8d8cc" opacity="0.42"/>
<path d="M274.7,257.5 L219.6,252.5 L219.3,254.7 L274.6,258.0 Z" fill="#f8d8cc" opacity="0.42"/>
<line x1="256.9" y1="254.1" x2="223.9" y2="249.3" stroke="#f8d8cc" stroke-width="0.7" opacity="0.18"/>
<line x1="284.9" y1="263.2" x2="267.0" y2="275.6" stroke="#d0645e" stroke-width="1.0" opacity="0.24"/>
<line x1="276.9" y1="259.9" x2="233.6" y2="262.5" stroke="#d0645e" stroke-width="0.8" opacity="0.18"/>
<line x1="273.9" y1="254.7" x2="229.3" y2="243.6" stroke="#f8d8cc" stroke-width="1.0" opacity="0.36"/>
<line x1="286.9" y1="261.6" x2="262.7" y2="277.1" stroke="#f8d8cc" stroke-width="1.0" opacity="0.31"/>
<line x1="278.5" y1="263.6" x2="228.8" y2="282.1" stroke="#d0645e" stroke-width="0.8" opacity="0.26"/>
<line x1="273.6" y1="254.0" x2="251.6" y2="247.8" stroke="#f8d8cc" stroke-width="1.1" opacity="0.24"/>
<line x1="269.6" y1="254.3" x2="237.5" y2="247.2" stroke="#d0645e" stroke-width="1.2" opacity="0.17"/>
<line x1="281.5" y1="266.2" x2="264.6" y2="279.1" stroke="#d0645e" stroke-width="1.2" opacity="0.29"/>
<line x1="273.6" y1="255.7" x2="233.2" y2="248.0" stroke="#d0645e" stroke-width="1.3" opacity="0.21"/>
<line x1="265.6" y1="252.5" x2="248.7" y2="248.2" stroke="#f8d8cc" stroke-width="1.3" opacity="0.34"/>
<line x1="269.6" y1="253.6" x2="247.6" y2="248.0" stroke="#f8d8cc" stroke-width="0.7" opacity="0.33"/>
<line x1="274.2" y1="255.6" x2="210.6" y2="242.8" stroke="#f8d8cc" stroke-width="1.4" opacity="0.37"/>
<line x1="282.6" y1="256.6" x2="256.3" y2="249.1" stroke="#f8d8cc" stroke-width="1.3" opacity="0.32"/>
<line x1="289.8" y1="260.1" x2="272.6" y2="276.6" stroke="#f8d8cc" stroke-width="0.8" opacity="0.36"/>
<line x1="265.1" y1="256.2" x2="228.8" y2="252.3" stroke="#d0645e" stroke-width="0.8" opacity="0.30"/>
<line x1="269.2" y1="253.9" x2="235.8" y2="246.0" stroke="#f8d8cc" stroke-width="0.7" opacity="0.20"/>
<line x1="274.2" y1="255.8" x2="235.7" y2="248.3" stroke="#f8d8cc" stroke-width="1.2" opacity="0.39"/>
<line x1="280.3" y1="262.6" x2="226.6" y2="280.5" stroke="#f8d8cc" stroke-width="0.8" opacity="0.26"/>
<line x1="280.2" y1="264.1" x2="254.0" y2="276.6" stroke="#f8d8cc" stroke-width="0.9" opacity="0.16"/>
<line x1="283.0" y1="265.1" x2="272.8" y2="273.0" stroke="#d0645e" stroke-width="1.2" opacity="0.16"/>
<line x1="260.3" y1="253.5" x2="223.9" y2="247.0" stroke="#d0645e" stroke-width="1.0" opacity="0.34"/>
<line x1="290.3" y1="263.2" x2="289.3" y2="269.4" stroke="#f8d8cc" stroke-width="0.7" opacity="0.39"/>
<line x1="253.9" y1="260.4" x2="209.6" y2="262.1" stroke="#f8d8cc" stroke-width="1.2" opacity="0.36"/>
<line x1="274.0" y1="266.4" x2="229.1" y2="285.8" stroke="#d0645e" stroke-width="1.0" opacity="0.28"/>
<line x1="289.5" y1="260.8" x2="277.2" y2="275.6" stroke="#d0645e" stroke-width="1.5" opacity="0.36"/>
</g></g>
<path d="M289,270 L236,285" stroke="#d0625c" stroke-width="9" filter="url(#b3)" opacity="0.75" stroke-linecap="round"/>
<path d="M296.0,303.0 L258.0,288.0 C251.8,288.2 227.5,285.7 221.0,289.0 C214.5,292.3 218.7,301.5 219.0,308.0 C219.3,314.5 220.5,321.8 223.0,328.0 C225.5,334.2 227.5,344.7 234.0,345.0 C240.5,345.3 252.7,335.5 262.0,330.0 C271.3,324.5 285.3,315.0 290.0,312.0Z" fill="url(#gp24)" filter="url(#b2)" opacity="1.00"/>
<g clip-path="url(#cp25)" opacity="1.00"><g filter="url(#b07)">
<path d="M273.7,310.8 L233.5,324.8 L239.3,333.8 L275.8,314.0 Z" fill="#c25a56" opacity="0.29"/>
<path d="M279.8,299.9 L235.3,291.4 L233.4,311.1 L279.3,305.2 Z" fill="#c25a56" opacity="0.29"/>
<path d="M279.4,311.5 L234.3,334.5 L241.1,340.5 L281.3,313.1 Z" fill="#c25a56" opacity="0.42"/>
<path d="M291.0,306.5 L248.2,336.7 L250.2,335.6 L291.2,306.4 Z" fill="#f6d0c4" opacity="0.37"/>
<path d="M282.5,312.5 L254.7,332.0 L256.9,330.9 L283.2,312.1 Z" fill="#f6d0c4" opacity="0.38"/>
<path d="M272.5,318.9 L237.9,342.3 L240.5,341.0 L273.5,318.4 Z" fill="#f6d0c4" opacity="0.31"/>
<path d="M284.1,300.2 L248.3,291.9 L242.1,292.1 L282.6,300.3 Z" fill="#f6d0c4" opacity="0.41"/>
<path d="M292.5,305.5 L241.5,341.1 L243.7,339.9 L292.6,305.4 Z" fill="#f6d0c4" opacity="0.32"/>
<path d="M266.6,301.3 L238.5,299.7 L238.3,302.0 L266.5,302.5 Z" fill="#f6d0c4" opacity="0.28"/>
<path d="M277.7,307.2 L242.6,315.2 L243.4,319.2 L278.0,308.5 Z" fill="#f6d0c4" opacity="0.27"/>
<path d="M273.0,309.4 L235.7,319.8 L238.0,325.8 L273.8,311.7 Z" fill="#f6d0c4" opacity="0.32"/>
<path d="M277.9,316.1 L254.9,332.7 L257.9,331.0 L279.2,315.4 Z" fill="#f6d0c4" opacity="0.36"/>
<line x1="289.7" y1="308.0" x2="267.8" y2="325.1" stroke="#c25a56" stroke-width="1.2" opacity="0.31"/>
<line x1="291.4" y1="307.6" x2="284.9" y2="314.0" stroke="#c25a56" stroke-width="0.7" opacity="0.34"/>
<line x1="287.2" y1="299.9" x2="266.2" y2="292.5" stroke="#f6d0c4" stroke-width="0.8" opacity="0.31"/>
<line x1="284.6" y1="312.5" x2="276.6" y2="319.1" stroke="#f6d0c4" stroke-width="1.3" opacity="0.34"/>
<line x1="286.5" y1="303.2" x2="220.9" y2="304.7" stroke="#f6d0c4" stroke-width="0.8" opacity="0.18"/>
<line x1="289.5" y1="309.2" x2="283.3" y2="315.0" stroke="#c25a56" stroke-width="0.6" opacity="0.29"/>
<line x1="274.2" y1="318.0" x2="242.2" y2="340.0" stroke="#c25a56" stroke-width="1.5" opacity="0.27"/>
<line x1="288.0" y1="306.2" x2="241.6" y2="325.0" stroke="#f6d0c4" stroke-width="1.2" opacity="0.19"/>
<line x1="288.1" y1="301.5" x2="228.3" y2="290.3" stroke="#f6d0c4" stroke-width="0.7" opacity="0.16"/>
<line x1="286.6" y1="305.5" x2="226.4" y2="321.5" stroke="#c25a56" stroke-width="0.6" opacity="0.30"/>
<line x1="288.7" y1="309.0" x2="275.7" y2="319.7" stroke="#c25a56" stroke-width="1.2" opacity="0.28"/>
<line x1="282.2" y1="306.1" x2="234.4" y2="316.9" stroke="#f6d0c4" stroke-width="1.5" opacity="0.19"/>
<line x1="287.1" y1="309.5" x2="267.4" y2="324.1" stroke="#f6d0c4" stroke-width="1.2" opacity="0.29"/>
<line x1="276.5" y1="309.5" x2="233.4" y2="323.9" stroke="#f6d0c4" stroke-width="1.5" opacity="0.38"/>
<line x1="285.3" y1="312.1" x2="270.8" y2="324.5" stroke="#f6d0c4" stroke-width="0.7" opacity="0.35"/>
<line x1="287.9" y1="308.9" x2="255.6" y2="332.7" stroke="#f6d0c4" stroke-width="1.1" opacity="0.39"/>
<line x1="273.7" y1="311.1" x2="240.3" y2="323.1" stroke="#f6d0c4" stroke-width="1.1" opacity="0.31"/>
<line x1="292.3" y1="306.1" x2="270.8" y2="324.1" stroke="#f6d0c4" stroke-width="0.7" opacity="0.32"/>
<line x1="274.5" y1="305.5" x2="233.8" y2="310.3" stroke="#f6d0c4" stroke-width="0.8" opacity="0.26"/>
<line x1="285.4" y1="301.8" x2="217.6" y2="293.9" stroke="#c25a56" stroke-width="1.1" opacity="0.18"/>
<line x1="292.3" y1="306.2" x2="279.0" y2="317.5" stroke="#f6d0c4" stroke-width="1.2" opacity="0.33"/>
<line x1="278.6" y1="299.7" x2="231.3" y2="290.9" stroke="#f6d0c4" stroke-width="0.7" opacity="0.28"/>
<line x1="290.8" y1="306.3" x2="244.9" y2="336.1" stroke="#c25a56" stroke-width="1.3" opacity="0.18"/>
<line x1="278.2" y1="310.4" x2="226.7" y2="331.7" stroke="#c25a56" stroke-width="1.2" opacity="0.39"/>
<line x1="279.8" y1="310.2" x2="232.0" y2="331.4" stroke="#f6d0c4" stroke-width="0.8" opacity="0.39"/>
<line x1="272.6" y1="316.4" x2="250.1" y2="329.3" stroke="#f6d0c4" stroke-width="0.7" opacity="0.21"/>
</g></g>
<path d="M290,300 L240,296" stroke="#cf625c" stroke-width="10" filter="url(#b3)" opacity="0.7" stroke-linecap="round"/>
<path d="M309.0,320.0 L238.0,346.0 C239.3,348.0 243.3,353.7 246.0,358.0 C248.7,362.3 250.7,367.0 254.0,372.0 C257.3,377.0 261.7,383.7 266.0,388.0 C270.3,392.3 275.0,400.7 280.0,398.0 C285.0,395.3 291.7,380.7 296.0,372.0 C300.3,363.3 304.3,350.3 306.0,346.0Z" fill="url(#gp26)" filter="url(#b2)" opacity="1.00"/>
<g clip-path="url(#cp27)" opacity="1.00"><g filter="url(#b07)">
<path d="M299.5,331.5 L265.8,372.1 L269.9,377.5 L300.4,332.7 Z" fill="#c25a56" opacity="0.40"/>
<path d="M302.2,339.5 L283.8,392.4 L290.7,381.2 L304.1,336.5 Z" fill="#c25a56" opacity="0.47"/>
<path d="M302.6,333.5 L274.5,392.7 L286.5,387.1 L304.8,332.5 Z" fill="#c25a56" opacity="0.47"/>
<path d="M292.8,337.9 L266.3,367.2 L275.5,378.1 L296.3,342.0 Z" fill="#c25a56" opacity="0.42"/>
<path d="M294.9,339.2 L275.7,365.3 L277.9,368.2 L295.9,340.4 Z" fill="#f6d0c4" opacity="0.44"/>
<path d="M300.2,344.5 L289.3,374.8 L290.2,373.3 L300.6,343.9 Z" fill="#f6d0c4" opacity="0.34"/>
<path d="M308.0,324.7 L301.7,354.5 L303.2,350.6 L308.2,324.2 Z" fill="#f6d0c4" opacity="0.26"/>
<path d="M308.3,322.9 L300.0,356.9 L301.2,353.8 L308.4,322.6 Z" fill="#f6d0c4" opacity="0.23"/>
<path d="M306.8,328.2 L295.6,370.8 L296.9,368.6 L307.1,327.8 Z" fill="#f6d0c4" opacity="0.34"/>
<path d="M298.0,335.3 L265.7,380.3 L267.2,382.2 L298.4,335.8 Z" fill="#f6d0c4" opacity="0.42"/>
<path d="M306.7,329.0 L298.6,360.1 L300.5,355.9 L307.1,328.1 Z" fill="#f6d0c4" opacity="0.20"/>
<path d="M306.8,324.6 L282.1,376.2 L285.7,378.7 L307.1,324.8 Z" fill="#f6d0c4" opacity="0.40"/>
<path d="M306.2,331.3 L299.1,359.4 L300.4,356.0 L306.5,330.3 Z" fill="#f6d0c4" opacity="0.30"/>
<line x1="306.9" y1="329.2" x2="299.0" y2="364.2" stroke="#f6d0c4" stroke-width="1.1" opacity="0.24"/>
<line x1="303.8" y1="333.5" x2="288.0" y2="374.3" stroke="#f6d0c4" stroke-width="0.6" opacity="0.19"/>
<line x1="298.1" y1="335.2" x2="268.5" y2="376.4" stroke="#f6d0c4" stroke-width="1.4" opacity="0.23"/>
<line x1="297.3" y1="334.9" x2="273.5" y2="365.5" stroke="#c25a56" stroke-width="1.0" opacity="0.40"/>
<line x1="301.7" y1="323.3" x2="246.7" y2="348.3" stroke="#f6d0c4" stroke-width="0.9" opacity="0.17"/>
<line x1="308.3" y1="325.2" x2="306.0" y2="343.8" stroke="#f6d0c4" stroke-width="1.5" opacity="0.40"/>
<line x1="290.2" y1="328.1" x2="243.2" y2="348.3" stroke="#c25a56" stroke-width="1.3" opacity="0.31"/>
<line x1="304.6" y1="333.2" x2="291.8" y2="371.5" stroke="#c25a56" stroke-width="1.4" opacity="0.38"/>
<line x1="305.7" y1="330.7" x2="290.4" y2="379.7" stroke="#f6d0c4" stroke-width="0.9" opacity="0.36"/>
<line x1="287.1" y1="340.9" x2="257.7" y2="369.0" stroke="#f6d0c4" stroke-width="0.7" opacity="0.23"/>
<line x1="287.2" y1="346.8" x2="267.8" y2="370.7" stroke="#f6d0c4" stroke-width="1.4" opacity="0.35"/>
<line x1="308.7" y1="322.9" x2="306.7" y2="339.3" stroke="#f6d0c4" stroke-width="1.0" opacity="0.26"/>
<line x1="304.4" y1="332.8" x2="289.7" y2="373.5" stroke="#c25a56" stroke-width="0.7" opacity="0.33"/>
<line x1="293.9" y1="334.8" x2="259.4" y2="368.4" stroke="#f6d0c4" stroke-width="0.7" opacity="0.20"/>
<line x1="307.2" y1="329.9" x2="304.1" y2="346.9" stroke="#f6d0c4" stroke-width="1.5" opacity="0.24"/>
<line x1="306.1" y1="331.6" x2="295.7" y2="372.4" stroke="#c25a56" stroke-width="1.4" opacity="0.23"/>
<line x1="284.8" y1="338.3" x2="257.6" y2="358.8" stroke="#c25a56" stroke-width="1.2" opacity="0.21"/>
<line x1="304.2" y1="321.9" x2="251.3" y2="343.3" stroke="#f6d0c4" stroke-width="0.9" opacity="0.28"/>
<line x1="299.6" y1="325.3" x2="265.9" y2="344.5" stroke="#c25a56" stroke-width="1.1" opacity="0.17"/>
<line x1="304.3" y1="339.4" x2="299.9" y2="358.1" stroke="#c25a56" stroke-width="0.6" opacity="0.22"/>
<line x1="307.8" y1="323.7" x2="291.8" y2="372.0" stroke="#c25a56" stroke-width="0.8" opacity="0.23"/>
<line x1="304.4" y1="337.1" x2="296.8" y2="364.8" stroke="#f6d0c4" stroke-width="1.3" opacity="0.19"/>
<line x1="305.6" y1="335.5" x2="302.7" y2="348.8" stroke="#f6d0c4" stroke-width="0.9" opacity="0.27"/>
<line x1="305.2" y1="330.9" x2="288.1" y2="379.7" stroke="#c25a56" stroke-width="0.6" opacity="0.23"/>
<line x1="305.3" y1="331.5" x2="291.6" y2="373.4" stroke="#f6d0c4" stroke-width="1.3" opacity="0.23"/>
<line x1="301.7" y1="324.0" x2="263.4" y2="345.3" stroke="#c25a56" stroke-width="0.9" opacity="0.24"/>
</g></g>
<path d="M328.0,333.0 L288.0,380.0 C289.7,381.0 293.7,384.3 298.0,386.0 C302.3,387.7 308.3,389.3 314.0,390.0 C319.7,390.7 326.0,391.2 332.0,390.0 C338.0,388.8 345.0,386.3 350.0,383.0 C355.0,379.7 359.3,374.8 362.0,370.0 C364.7,365.2 367.0,358.7 366.0,354.0 C365.0,349.3 357.7,344.0 356.0,342.0Z" fill="url(#gp28)" filter="url(#b2)" opacity="1.00"/>
<g clip-path="url(#cp29)" opacity="1.00"><g filter="url(#b07)">
<path d="M326.5,343.3 L319.2,392.6 L334.4,391.7 L329.1,343.1 Z" fill="#ae4a4a" opacity="0.37"/>
<path d="M332.2,349.7 L340.4,382.0 L348.5,378.7 L335.0,348.5 Z" fill="#ae4a4a" opacity="0.32"/>
<path d="M318.3,345.6 L291.5,380.5 L304.2,386.1 L321.7,347.1 Z" fill="#ae4a4a" opacity="0.33"/>
<path d="M330.5,344.0 L338.4,379.5 L347.2,375.9 L332.6,343.2 Z" fill="#ae4a4a" opacity="0.31"/>
<path d="M332.1,351.6 L338.0,378.2 L344.3,375.7 L334.7,350.6 Z" fill="#ae4a4a" opacity="0.36"/>
<path d="M334.2,350.3 L345.6,382.1 L354.0,375.4 L337.2,348.0 Z" fill="#ae4a4a" opacity="0.40"/>
<path d="M318.9,350.2 L305.6,375.2 L308.6,376.0 L320.1,350.5 Z" fill="#eab0a6" opacity="0.16"/>
<path d="M336.0,350.5 L350.6,382.3 L353.8,378.9 L337.2,349.3 Z" fill="#eab0a6" opacity="0.28"/>
<path d="M338.3,343.4 L357.5,362.8 L358.3,359.6 L338.6,342.3 Z" fill="#eab0a6" opacity="0.18"/>
<path d="M341.4,342.6 L358.7,355.0 L359.2,352.9 L341.6,341.7 Z" fill="#eab0a6" opacity="0.28"/>
<path d="M322.7,348.7 L314.8,372.4 L318.1,373.2 L324.1,349.0 Z" fill="#eab0a6" opacity="0.12"/>
<path d="M334.1,338.5 L355.5,357.9 L356.5,353.8 L334.3,337.6 Z" fill="#eab0a6" opacity="0.24"/>
<path d="M327.7,349.0 L327.0,390.1 L332.4,389.9 L329.2,348.9 Z" fill="#eab0a6" opacity="0.19"/>
<line x1="325.8" y1="335.8" x2="293.5" y2="378.6" stroke="#ae4a4a" stroke-width="0.8" opacity="0.20"/>
<line x1="338.8" y1="343.1" x2="355.0" y2="358.2" stroke="#eab0a6" stroke-width="0.8" opacity="0.29"/>
<line x1="318.6" y1="354.6" x2="304.3" y2="387.4" stroke="#eab0a6" stroke-width="1.5" opacity="0.18"/>
<line x1="327.4" y1="337.9" x2="323.1" y2="370.1" stroke="#ae4a4a" stroke-width="0.7" opacity="0.32"/>
<line x1="333.6" y1="344.0" x2="349.4" y2="374.9" stroke="#ae4a4a" stroke-width="1.4" opacity="0.33"/>
<line x1="315.3" y1="350.9" x2="298.7" y2="374.1" stroke="#eab0a6" stroke-width="1.4" opacity="0.40"/>
<line x1="327.5" y1="336.4" x2="322.5" y2="372.6" stroke="#ae4a4a" stroke-width="0.7" opacity="0.23"/>
<line x1="330.9" y1="343.1" x2="342.2" y2="383.1" stroke="#eab0a6" stroke-width="1.2" opacity="0.17"/>
<line x1="326.7" y1="356.8" x2="325.2" y2="386.4" stroke="#eab0a6" stroke-width="1.5" opacity="0.16"/>
<line x1="322.5" y1="353.8" x2="314.0" y2="385.5" stroke="#ae4a4a" stroke-width="0.7" opacity="0.30"/>
<line x1="335.4" y1="349.3" x2="349.2" y2="379.5" stroke="#ae4a4a" stroke-width="1.5" opacity="0.23"/>
<line x1="331.6" y1="334.9" x2="359.2" y2="349.7" stroke="#ae4a4a" stroke-width="1.1" opacity="0.15"/>
<line x1="323.7" y1="348.0" x2="313.3" y2="384.0" stroke="#eab0a6" stroke-width="1.1" opacity="0.18"/>
<line x1="327.7" y1="347.2" x2="326.6" y2="391.0" stroke="#eab0a6" stroke-width="1.5" opacity="0.36"/>
<line x1="332.2" y1="334.6" x2="348.4" y2="340.8" stroke="#eab0a6" stroke-width="0.8" opacity="0.22"/>
<line x1="325.8" y1="336.4" x2="299.7" y2="376.6" stroke="#eab0a6" stroke-width="1.3" opacity="0.39"/>
<line x1="326.0" y1="343.3" x2="320.4" y2="371.0" stroke="#eab0a6" stroke-width="1.1" opacity="0.29"/>
<line x1="342.0" y1="350.6" x2="359.6" y2="372.6" stroke="#eab0a6" stroke-width="0.8" opacity="0.26"/>
<line x1="331.9" y1="343.4" x2="341.5" y2="369.4" stroke="#eab0a6" stroke-width="1.4" opacity="0.35"/>
<line x1="338.8" y1="338.5" x2="354.5" y2="346.4" stroke="#eab0a6" stroke-width="1.4" opacity="0.21"/>
<line x1="333.1" y1="342.3" x2="346.9" y2="367.6" stroke="#ae4a4a" stroke-width="1.2" opacity="0.17"/>
<line x1="329.7" y1="335.9" x2="352.5" y2="375.6" stroke="#eab0a6" stroke-width="1.2" opacity="0.23"/>
<line x1="335.6" y1="344.7" x2="349.8" y2="366.7" stroke="#eab0a6" stroke-width="0.6" opacity="0.34"/>
<line x1="337.6" y1="338.6" x2="361.4" y2="352.7" stroke="#eab0a6" stroke-width="0.8" opacity="0.31"/>
<line x1="335.0" y1="340.0" x2="360.4" y2="365.3" stroke="#eab0a6" stroke-width="1.5" opacity="0.22"/>
<line x1="339.1" y1="349.1" x2="347.8" y2="361.7" stroke="#eab0a6" stroke-width="1.2" opacity="0.38"/>
</g></g>
<path d="M288,256 L226,243 L222,263 Z" fill="#f7d8cc" filter="url(#b3)" opacity="0.75"/>
<path d="M289,265 L240,270 L230,291 L289,277 Z" fill="#d05852" filter="url(#b3)" opacity="0.8"/>
<path d="M294,299 L238,289 L231,307 L292,309 Z" fill="#cc5852" filter="url(#b3)" opacity="0.75"/>
<path d="M294,309 L229,313 L236,335 Z" fill="#f6d6ca" filter="url(#b3)" opacity="0.65"/>
<path d="M291,277 L222,290" stroke="#b84844" stroke-width="1.6" filter="url(#b07)" opacity="0.6"/>
<ellipse cx="217" cy="262" rx="10" ry="17" fill="#f8dcd0" filter="url(#b4)" opacity="0.65"/>
<ellipse cx="240" cy="322" rx="15" ry="8" transform="rotate(35 240 322)" fill="#f6d4c8" filter="url(#b4)" opacity="0.55"/>
<path d="M303,326 L264,360" stroke="#c85c58" stroke-width="12" filter="url(#b4)" opacity="0.6" stroke-linecap="round"/>
<path d="M291.0,372.0 C293.3,373.8 299.2,380.7 305.0,383.0 C310.8,385.3 318.8,386.7 326.0,386.0 C333.2,385.3 342.3,382.3 348.0,379.0 C353.7,375.7 358.0,368.2 360.0,366.0" fill="none" stroke="#b85452" stroke-width="9" filter="url(#b3)" opacity="0.55"/>
<path d="M365.0,384.0 C362.8,386.0 357.2,392.5 352.0,396.0 C346.8,399.5 340.0,402.9 334.0,405.0 C328.0,407.1 323.0,408.5 316.0,408.5 C309.0,408.5 298.5,407.4 292.0,405.0 C285.5,402.6 281.2,397.8 277.0,394.0 C272.8,390.2 270.0,386.5 267.0,382.0 C264.0,377.5 261.3,371.3 259.0,367.0 C256.7,362.7 256.5,359.8 253.0,356.0 C249.5,352.2 242.2,348.3 238.0,344.0 C233.8,339.7 230.3,335.7 228.0,330.0 C225.7,324.3 224.3,316.2 224.0,310.0 C223.7,303.8 225.7,295.8 226.0,293.0" fill="none" stroke="#f3c8b0" stroke-width="9" filter="url(#b3)" opacity="0.6"/>
<path d="M300.0,121.0 C309.1,118.7 315.7,115.5 325.0,115.5 C334.3,115.5 347.3,117.9 356.0,121.0 C364.7,124.1 370.4,128.8 377.0,134.0 C383.6,139.2 390.7,146.4 395.5,152.5 C400.3,158.6 403.4,164.4 406.0,170.5 C408.6,176.6 410.2,183.1 411.0,189.0 C411.8,194.9 411.6,200.5 410.6,206.0 C409.6,211.5 407.3,217.3 405.0,222.0 C402.7,226.7 400.1,230.2 397.0,234.0 C393.9,237.8 390.3,241.3 386.5,244.5 C382.7,247.7 378.8,250.8 374.0,253.0 C369.2,255.2 362.3,255.5 358.0,258.0 C353.7,260.5 350.3,262.7 348.0,268.0 C345.7,273.3 344.7,282.2 344.0,290.0 C343.3,297.8 343.7,308.8 344.0,315.0 C344.3,321.2 343.4,322.8 346.0,327.0 C348.6,331.2 355.5,335.6 359.6,340.0 C363.7,344.4 368.2,348.7 370.4,353.6 C372.6,358.5 373.4,364.2 373.0,369.6 C372.6,375.0 370.8,380.8 367.7,385.7 C364.6,390.6 359.7,395.0 354.3,399.0 C348.9,403.0 341.8,407.3 335.5,409.8 C329.2,412.3 324.4,413.8 316.8,413.8 C309.2,413.8 297.4,412.7 290.0,410.0 C282.6,407.3 277.2,401.7 272.5,397.6 C267.8,393.5 264.9,390.2 261.8,385.5 C258.7,380.8 256.0,373.9 253.8,369.5 C251.6,365.1 251.9,362.4 248.4,358.8 C244.9,355.2 237.3,352.4 233.0,347.9 C228.7,343.4 224.8,338.1 222.3,331.8 C219.9,325.5 218.5,316.7 218.3,310.0 C218.1,303.3 222.6,297.4 221.0,291.6 C219.4,285.9 212.8,280.4 209.0,275.5 C205.2,270.6 200.5,266.9 198.5,262.0 C196.5,257.1 196.8,251.3 197.0,246.0 C197.2,240.7 198.3,235.6 199.6,230.0 C200.9,224.4 202.3,219.4 205.0,212.5 C207.7,205.6 211.5,196.0 215.5,188.4 C219.5,180.8 222.9,174.6 229.0,167.0 C235.1,159.4 244.9,149.2 251.8,142.9 C258.7,136.7 262.5,133.2 270.5,129.5 C278.5,125.8 290.9,123.3 300.0,121.0Z" fill="none" stroke="#f7d2ba" stroke-width="2.2" opacity="0.95"/>
<path d="M406.0,224.0 C404.3,226.2 399.7,233.2 396.0,237.0 C392.3,240.8 388.7,244.3 384.0,247.0 C379.3,249.7 373.7,252.2 368.0,253.0 C362.3,253.8 355.0,253.0 350.0,252.0 C345.0,251.0 340.0,247.8 338.0,247.0" fill="none" stroke="#b85058" stroke-width="5" filter="url(#b2)" opacity="0.8"/>
</g>
<path d="M424.5,311.0 C426.1,314.0 431.4,322.7 434.0,329.0 C436.6,335.3 438.8,342.3 440.0,348.8 C441.2,355.3 441.2,361.1 441.0,368.0 C440.8,374.9 440.1,383.5 439.0,390.0 C437.9,396.5 436.3,400.6 434.7,407.0 C433.1,413.4 430.5,422.3 429.3,428.6 C428.1,434.9 428.2,438.1 427.4,445.0 C426.6,451.9 425.1,462.2 424.5,470.0 C423.9,477.8 424.0,488.3 423.9,492.0 L401.6,492.0 C401.7,490.0 401.4,487.8 402.3,480.0 C403.2,472.2 405.6,454.2 407.0,445.0 C408.4,435.8 409.7,432.5 410.5,425.0 C411.3,417.5 411.5,406.7 412.0,400.0 C412.5,393.3 413.6,391.9 413.7,385.0 C413.8,378.1 413.6,365.1 412.7,358.6 C411.8,352.1 410.4,349.8 408.0,346.0 C405.6,342.2 401.7,339.3 398.0,336.0 C394.3,332.7 390.3,329.0 386.0,326.0 C381.7,323.0 378.0,319.7 372.0,318.0 C366.0,316.3 356.3,317.0 350.0,316.0 C343.7,315.0 336.7,312.7 334.0,312.0 L330,296 L332,262 L360,285 L400,298 Z" fill="url(#gure)"/>
<path d="M384.0,309.0 C382.4,310.6 394.1,318.4 397.0,321.0 C399.9,323.6 404.1,327.8 406.8,329.5 C409.5,331.2 416.5,334.2 418.6,334.5 C420.7,334.8 422.6,333.3 423.5,332.0 C424.4,330.7 425.8,326.2 426.0,324.0 C426.2,321.8 427.0,316.0 425.0,314.0 C423.0,312.0 415.1,308.6 410.0,308.0 C404.9,307.4 385.6,307.4 384.0,309.0Z" fill="#e5a646" filter="url(#b1)"/>
<path d="M401.6,492.0 C401.7,490.0 401.4,487.8 402.3,480.0 C403.2,472.2 405.6,454.2 407.0,445.0 C408.4,435.8 409.7,432.5 410.5,425.0 C411.3,417.5 411.5,406.7 412.0,400.0 C412.5,393.3 413.6,391.9 413.7,385.0 C413.8,378.1 413.6,365.1 412.7,358.6 C411.8,352.1 408.8,348.1 408.0,346.0" fill="none" stroke="#dba040" stroke-width="1.2" opacity="0.9"/>
<path d="M336.0,300.0 C338.3,300.8 344.4,303.8 350.0,305.0 C355.6,306.2 363.7,305.7 369.5,307.5 C375.3,309.3 380.4,312.6 385.0,316.0 C389.6,319.4 393.3,324.2 397.0,328.0 C400.7,331.8 404.6,335.0 407.0,339.0 C409.4,343.0 410.8,349.8 411.5,352.0" fill="none" stroke="#d9a040" stroke-width="1.1" opacity="0.9"/>
<path d="M340.0,304.0 C342.0,304.7 347.2,306.9 352.0,308.0 C356.8,309.1 363.8,308.7 369.0,310.5 C374.2,312.3 379.2,315.7 383.5,319.0 C387.8,322.3 391.5,326.8 395.0,330.5 C398.5,334.2 402.9,339.2 404.5,341.0" fill="none" stroke="#f9e2a4" stroke-width="3" opacity="0.9"/>
<path d="M424.5,311.0 C426.1,314.0 431.4,322.7 434.0,329.0 C436.6,335.3 438.8,342.3 440.0,348.8 C441.2,355.3 441.2,361.1 441.0,368.0 C440.8,374.9 440.1,383.5 439.0,390.0 C437.9,396.5 436.3,400.6 434.7,407.0 C433.1,413.4 430.5,422.3 429.3,428.6 C428.1,434.9 428.2,438.1 427.4,445.0 C426.6,451.9 425.1,462.2 424.5,470.0 C423.9,477.8 424.0,488.3 423.9,492.0" fill="none" stroke="#e2ac50" stroke-width="1" opacity="0.8"/>
<ellipse cx="412.8" cy="492.5" rx="11.2" ry="6" transform="rotate(-8 412.8 492.5)" fill="#f2cd82" stroke="#e2ad55" stroke-width="1"/>
<ellipse cx="412.8" cy="492.8" rx="8" ry="3.6" transform="rotate(-8 412.8 492.5)" fill="#e8b45e"/>
<g clip-path="url(#cfat)">
<path d="M340.5,318.5 C340.7,315.9 342.4,314.9 345.0,314.5 C347.6,314.1 352.8,316.2 356.0,316.0 C359.2,315.8 361.3,313.8 364.0,313.5 C366.7,313.2 369.5,313.1 372.0,314.0 C374.5,314.9 376.7,317.3 379.0,319.0 C381.3,320.7 384.0,322.0 386.0,324.0 C388.0,326.0 389.2,328.8 391.0,331.0 C392.8,333.2 395.0,334.5 397.0,337.0 C399.0,339.5 402.3,342.8 403.0,346.0 C403.7,349.2 402.5,353.8 401.0,356.0 C399.5,358.2 396.0,359.3 394.0,359.0 C392.0,358.7 391.0,355.3 389.0,354.0 C387.0,352.7 384.2,352.5 382.0,351.0 C379.8,349.5 378.5,346.8 376.0,345.0 C373.5,343.2 369.8,341.5 367.0,340.0 C364.2,338.5 361.7,337.0 359.0,336.0 C356.3,335.0 353.5,335.0 351.0,334.0 C348.5,333.0 345.8,332.6 344.0,330.0 C342.2,327.4 340.3,321.1 340.5,318.5Z" fill="#efb833"/>
<ellipse cx="351" cy="323" rx="7" ry="4.5" transform="rotate(-10 351 323)" fill="#f9e27e" filter="url(#b1)" opacity="0.9"/>
<ellipse cx="364" cy="319" rx="6" ry="3.5" transform="rotate(10 364 319)" fill="#f6d55e" filter="url(#b1)" opacity="0.8"/>
<ellipse cx="374" cy="323" rx="5" ry="4" transform="rotate(30 374 323)" fill="#f8de74" filter="url(#b1)" opacity="0.85"/>
<ellipse cx="366" cy="331" rx="7" ry="4" transform="rotate(15 366 331)" fill="#fae88c" filter="url(#b1)" opacity="0.9"/>
<ellipse cx="381" cy="333" rx="5" ry="4.5" transform="rotate(40 381 333)" fill="#f7da68" filter="url(#b1)" opacity="0.85"/>
<ellipse cx="390" cy="342" rx="5.5" ry="4" transform="rotate(45 390 342)" fill="#fae486" filter="url(#b1)" opacity="0.9"/>
<ellipse cx="396" cy="352" rx="4" ry="4" transform="rotate(0 396 352)" fill="#f6d660" filter="url(#b1)" opacity="0.85"/>
<ellipse cx="356" cy="331" rx="4" ry="2.5" transform="rotate(0 356 331)" fill="#f4cc50" filter="url(#b1)" opacity="0.7"/>
<path d="M358.0,316.0 C358.3,317.0 360.0,320.2 360.0,322.0 C360.0,323.8 358.3,326.2 358.0,327.0" fill="none" stroke="#c9821c" stroke-width="1.3" filter="url(#b07)" opacity="0.75"/>
<path d="M370.0,315.0 C370.2,316.0 370.0,318.7 371.0,321.0 C372.0,323.3 375.5,326.5 376.0,329.0 C376.5,331.5 374.3,334.8 374.0,336.0" fill="none" stroke="#c9821c" stroke-width="1.3" filter="url(#b07)" opacity="0.75"/>
<path d="M383.0,324.0 C382.8,324.8 381.5,326.8 382.0,329.0 C382.5,331.2 385.3,335.7 386.0,337.0" fill="none" stroke="#c9821c" stroke-width="1.3" filter="url(#b07)" opacity="0.75"/>
<path d="M389.0,333.0 C389.7,333.8 392.7,335.8 393.0,338.0 C393.3,340.2 390.5,344.3 391.0,346.0 C391.5,347.7 395.2,347.7 396.0,348.0" fill="none" stroke="#c9821c" stroke-width="1.3" filter="url(#b07)" opacity="0.75"/>
<path d="M346.0,328.0 C347.0,328.3 349.7,328.8 352.0,330.0 C354.3,331.2 358.7,334.2 360.0,335.0" fill="none" stroke="#c9821c" stroke-width="1.3" filter="url(#b07)" opacity="0.75"/>
<path d="M376.0,340.0 C377.2,340.7 381.0,342.2 383.0,344.0 C385.0,345.8 387.2,349.8 388.0,351.0" fill="none" stroke="#c9821c" stroke-width="1.3" filter="url(#b07)" opacity="0.75"/>
</g>
<path d="M340.5,318.5 C340.7,315.9 342.4,314.9 345.0,314.5 C347.6,314.1 352.8,316.2 356.0,316.0 C359.2,315.8 361.3,313.8 364.0,313.5 C366.7,313.2 369.5,313.1 372.0,314.0 C374.5,314.9 376.7,317.3 379.0,319.0 C381.3,320.7 384.0,322.0 386.0,324.0 C388.0,326.0 389.2,328.8 391.0,331.0 C392.8,333.2 395.0,334.5 397.0,337.0 C399.0,339.5 402.3,342.8 403.0,346.0 C403.7,349.2 402.5,353.8 401.0,356.0 C399.5,358.2 396.0,359.3 394.0,359.0 C392.0,358.7 391.0,355.3 389.0,354.0 C387.0,352.7 384.2,352.5 382.0,351.0 C379.8,349.5 378.5,346.8 376.0,345.0 C373.5,343.2 369.8,341.5 367.0,340.0 C364.2,338.5 361.7,337.0 359.0,336.0 C356.3,335.0 353.5,335.0 351.0,334.0 C348.5,333.0 345.8,332.6 344.0,330.0 C342.2,327.4 340.3,321.1 340.5,318.5Z" fill="none" stroke="#c08a1c" stroke-width="0.8" opacity="0.8"/>
<path d="M283.8,258.5 C283.5,257.7 288.5,255.6 290.0,254.0 C291.5,252.4 293.7,248.9 294.0,247.0 C294.3,245.1 291.0,241.6 291.9,240.8 C292.8,240.0 297.8,241.2 300.0,241.5 C302.2,241.8 305.6,244.1 307.0,243.0 C308.4,241.9 309.0,235.5 309.6,233.6 C310.2,231.7 311.3,231.3 311.0,229.6 C310.7,227.9 308.4,224.0 307.5,222.0 C306.6,220.0 304.6,216.3 304.7,215.9 C304.8,215.5 307.2,217.4 308.5,219.0 C309.8,220.6 312.4,226.0 313.5,227.0 C314.6,228.0 315.8,227.7 316.0,226.0 C316.2,224.3 315.3,217.9 315.0,215.0 C314.7,212.1 313.4,206.1 313.6,206.0 C313.8,205.9 315.8,211.2 316.5,214.0 C317.2,216.8 317.5,224.6 318.4,225.5 C319.3,226.4 321.4,220.7 323.0,220.0 C324.6,219.3 328.3,220.0 329.6,220.7 C330.9,221.4 331.2,225.8 332.0,224.7 C332.8,223.6 334.1,216.1 335.0,213.0 C335.9,209.9 338.1,203.0 338.5,203.0 C338.9,203.0 338.4,209.7 338.0,213.0 C337.6,216.3 335.4,224.5 335.5,226.0 C335.6,227.5 337.7,224.4 338.5,223.5 C339.3,222.6 340.9,219.1 341.0,219.5 C341.1,219.9 340.1,224.4 339.5,226.0 C338.9,227.6 336.9,229.9 337.0,231.0 C337.1,232.1 338.7,233.3 340.0,234.0 C341.3,234.7 344.2,235.6 346.0,236.0 C347.8,236.4 352.5,236.0 352.5,236.5 C352.5,237.0 347.9,238.9 346.0,239.5 C344.1,240.1 340.9,240.2 339.0,241.0 C337.1,241.8 334.1,243.4 333.0,245.0 C331.9,246.6 331.0,249.6 331.0,252.0 C331.0,254.4 331.9,258.6 333.0,262.0 C334.1,265.4 336.9,272.1 339.0,276.0 C341.1,279.9 345.0,285.7 348.0,289.0 C351.0,292.3 356.9,296.7 360.0,299.0 C363.1,301.3 368.6,303.9 370.0,305.0 C371.4,306.1 372.0,306.8 370.0,307.0 C368.0,307.2 359.6,306.4 356.0,306.5 C352.4,306.6 346.5,306.8 344.5,308.0 C342.5,309.2 342.4,312.7 342.0,315.0 C341.6,317.3 341.3,321.2 341.5,324.0 C341.7,326.8 343.9,333.9 343.5,334.7 C343.1,335.5 340.5,330.5 339.0,329.5 C337.5,328.5 334.8,328.3 333.0,328.0 C331.2,327.7 328.8,326.9 326.6,327.5 C324.4,328.1 318.5,332.5 317.8,332.3 C317.1,332.1 320.7,327.6 322.0,326.0 C323.3,324.4 325.8,322.9 326.6,321.0 C327.4,319.1 327.7,315.0 327.5,313.0 C327.3,311.0 326.3,308.9 325.0,307.0 C323.7,305.1 320.2,300.3 318.6,300.0 C317.0,299.7 314.9,303.6 314.0,305.0 C313.1,306.4 312.9,308.1 312.0,309.8 C311.1,311.5 308.6,316.8 308.0,317.0 C307.4,317.2 307.8,312.5 307.5,311.0 C307.2,309.5 307.1,307.6 305.7,306.6 C304.3,305.6 300.1,304.7 298.0,304.0 C295.9,303.3 291.3,302.5 291.3,302.0 C291.3,301.5 296.2,300.8 298.0,300.5 C299.8,300.2 302.1,300.6 304.0,300.0 C305.9,299.4 309.3,297.8 311.0,296.5 C312.7,295.2 315.5,292.5 316.0,291.0 C316.5,289.5 315.1,287.4 314.6,285.7 C314.1,284.0 313.4,280.5 312.5,279.0 C311.6,277.5 309.4,276.1 308.0,275.5 C306.6,274.9 304.2,274.5 302.5,274.5 C300.8,274.5 297.7,275.2 296.0,275.5 C294.3,275.8 290.5,277.3 290.4,276.9 C290.3,276.5 293.8,273.8 295.0,272.5 C296.2,271.2 297.8,269.5 299.0,268.0 C300.2,266.5 302.6,263.2 303.5,262.0 C304.4,260.8 306.0,259.6 305.5,259.3 C305.0,259.0 301.9,260.0 300.0,260.0 C298.1,260.0 294.3,259.7 292.0,259.5 C289.7,259.3 284.1,259.3 283.8,258.5Z" fill="#bf8522" stroke="#bf8522" stroke-width="3.0" stroke-linejoin="round"/>
<path d="M283.8,258.5 C283.5,257.7 288.5,255.6 290.0,254.0 C291.5,252.4 293.7,248.9 294.0,247.0 C294.3,245.1 291.0,241.6 291.9,240.8 C292.8,240.0 297.8,241.2 300.0,241.5 C302.2,241.8 305.6,244.1 307.0,243.0 C308.4,241.9 309.0,235.5 309.6,233.6 C310.2,231.7 311.3,231.3 311.0,229.6 C310.7,227.9 308.4,224.0 307.5,222.0 C306.6,220.0 304.6,216.3 304.7,215.9 C304.8,215.5 307.2,217.4 308.5,219.0 C309.8,220.6 312.4,226.0 313.5,227.0 C314.6,228.0 315.8,227.7 316.0,226.0 C316.2,224.3 315.3,217.9 315.0,215.0 C314.7,212.1 313.4,206.1 313.6,206.0 C313.8,205.9 315.8,211.2 316.5,214.0 C317.2,216.8 317.5,224.6 318.4,225.5 C319.3,226.4 321.4,220.7 323.0,220.0 C324.6,219.3 328.3,220.0 329.6,220.7 C330.9,221.4 331.2,225.8 332.0,224.7 C332.8,223.6 334.1,216.1 335.0,213.0 C335.9,209.9 338.1,203.0 338.5,203.0 C338.9,203.0 338.4,209.7 338.0,213.0 C337.6,216.3 335.4,224.5 335.5,226.0 C335.6,227.5 337.7,224.4 338.5,223.5 C339.3,222.6 340.9,219.1 341.0,219.5 C341.1,219.9 340.1,224.4 339.5,226.0 C338.9,227.6 336.9,229.9 337.0,231.0 C337.1,232.1 338.7,233.3 340.0,234.0 C341.3,234.7 344.2,235.6 346.0,236.0 C347.8,236.4 352.5,236.0 352.5,236.5 C352.5,237.0 347.9,238.9 346.0,239.5 C344.1,240.1 340.9,240.2 339.0,241.0 C337.1,241.8 334.1,243.4 333.0,245.0 C331.9,246.6 331.0,249.6 331.0,252.0 C331.0,254.4 331.9,258.6 333.0,262.0 C334.1,265.4 336.9,272.1 339.0,276.0 C341.1,279.9 345.0,285.7 348.0,289.0 C351.0,292.3 356.9,296.7 360.0,299.0 C363.1,301.3 368.6,303.9 370.0,305.0 C371.4,306.1 372.0,306.8 370.0,307.0 C368.0,307.2 359.6,306.4 356.0,306.5 C352.4,306.6 346.5,306.8 344.5,308.0 C342.5,309.2 342.4,312.7 342.0,315.0 C341.6,317.3 341.3,321.2 341.5,324.0 C341.7,326.8 343.9,333.9 343.5,334.7 C343.1,335.5 340.5,330.5 339.0,329.5 C337.5,328.5 334.8,328.3 333.0,328.0 C331.2,327.7 328.8,326.9 326.6,327.5 C324.4,328.1 318.5,332.5 317.8,332.3 C317.1,332.1 320.7,327.6 322.0,326.0 C323.3,324.4 325.8,322.9 326.6,321.0 C327.4,319.1 327.7,315.0 327.5,313.0 C327.3,311.0 326.3,308.9 325.0,307.0 C323.7,305.1 320.2,300.3 318.6,300.0 C317.0,299.7 314.9,303.6 314.0,305.0 C313.1,306.4 312.9,308.1 312.0,309.8 C311.1,311.5 308.6,316.8 308.0,317.0 C307.4,317.2 307.8,312.5 307.5,311.0 C307.2,309.5 307.1,307.6 305.7,306.6 C304.3,305.6 300.1,304.7 298.0,304.0 C295.9,303.3 291.3,302.5 291.3,302.0 C291.3,301.5 296.2,300.8 298.0,300.5 C299.8,300.2 302.1,300.6 304.0,300.0 C305.9,299.4 309.3,297.8 311.0,296.5 C312.7,295.2 315.5,292.5 316.0,291.0 C316.5,289.5 315.1,287.4 314.6,285.7 C314.1,284.0 313.4,280.5 312.5,279.0 C311.6,277.5 309.4,276.1 308.0,275.5 C306.6,274.9 304.2,274.5 302.5,274.5 C300.8,274.5 297.7,275.2 296.0,275.5 C294.3,275.8 290.5,277.3 290.4,276.9 C290.3,276.5 293.8,273.8 295.0,272.5 C296.2,271.2 297.8,269.5 299.0,268.0 C300.2,266.5 302.6,263.2 303.5,262.0 C304.4,260.8 306.0,259.6 305.5,259.3 C305.0,259.0 301.9,260.0 300.0,260.0 C298.1,260.0 294.3,259.7 292.0,259.5 C289.7,259.3 284.1,259.3 283.8,258.5Z" fill="url(#gpel)" stroke="#f2cc76" stroke-width="0.8" stroke-linejoin="round"/>
<path d="M314.0,276.0 C314.5,277.3 315.7,281.7 317.0,284.0 C318.3,286.3 320.1,288.6 322.0,290.0 C323.9,291.4 326.2,291.5 328.2,292.5 C330.2,293.5 332.0,294.2 334.0,296.0 C336.0,297.8 338.3,301.0 340.0,303.0 C341.7,305.0 343.6,307.3 344.3,308.2" fill="none" stroke="#d7a040" stroke-width="1.1" opacity="0.9"/>
<path d="M315.5,277.0 C316.0,278.0 317.4,281.2 318.7,283.0 C319.9,284.8 321.3,286.8 323.0,288.0 C324.7,289.2 326.9,289.5 329.0,290.5 C331.1,291.5 333.4,292.2 335.5,294.0 C337.6,295.8 340.5,299.8 341.5,301.0" fill="none" stroke="#f9e4a8" stroke-width="1.6" opacity="0.8"/>
<path d="M288.0,256.0 C287.7,254.7 292.7,252.0 294.0,250.0 C295.3,248.0 294.3,244.7 296.0,244.0 C297.7,243.3 302.0,244.8 304.0,246.0 C306.0,247.2 308.0,249.2 308.0,251.0 C308.0,252.8 306.0,255.8 304.0,257.0 C302.0,258.2 298.7,258.2 296.0,258.0 C293.3,257.8 288.3,257.3 288.0,256.0Z" fill="#c69a2c" opacity="0.9"/>
<path d="M291.0,256.0 C290.5,255.2 294.3,251.7 296.0,251.0 C297.7,250.3 300.5,251.2 301.0,252.0 C301.5,252.8 300.7,255.3 299.0,256.0 C297.3,256.7 291.5,256.8 291.0,256.0Z" fill="#f0d070" opacity="0.9"/>
<path d="M308.0,219.0 C307.8,219.5 310.0,220.5 311.0,222.0 C312.0,223.5 313.2,227.3 314.0,228.0 C314.8,228.7 315.8,227.7 316.0,226.0 C316.2,224.3 315.7,219.2 315.0,218.0 C314.3,216.8 313.2,218.8 312.0,219.0 C310.8,219.2 308.2,218.5 308.0,219.0Z" fill="#c9a030" opacity="0.9"/>
<path d="M315.0,303.0 C315.7,300.8 318.2,300.3 320.0,301.0 C321.8,301.7 324.8,304.7 326.0,307.0 C327.2,309.3 327.7,313.2 327.0,315.0 C326.3,316.8 323.8,318.2 322.0,318.0 C320.2,317.8 317.2,316.5 316.0,314.0 C314.8,311.5 314.3,305.2 315.0,303.0Z" fill="#d2a634" opacity="0.9"/>
<path d="M318.0,232.0 C318.7,234.0 321.5,239.7 322.0,244.0 C322.5,248.3 321.3,254.0 321.0,258.0 C320.7,262.0 320.2,266.3 320.0,268.0" fill="none" stroke="#f9e8ac" stroke-width="5" filter="url(#b2)" opacity="0.75"/>
<path d="M410.0,314.0 C407.8,313.9 402.0,314.2 397.0,313.5 C392.0,312.8 385.0,311.2 380.0,310.0 C375.0,308.8 371.8,308.3 367.0,306.0 C362.2,303.7 355.5,299.7 351.0,296.0 C346.5,292.3 343.2,288.2 340.0,284.0 C336.8,279.8 334.0,275.0 332.0,270.5 C330.0,266.0 328.6,260.8 328.0,257.0 C327.4,253.2 328.4,249.5 328.5,248.0" fill="none" stroke="#3c2a0e" stroke-width="6" filter="url(#b2)" opacity="0.7"/>
<path d="M329.5,249.0 C330.1,248.7 331.2,246.9 333.0,247.0 C334.8,247.1 336.3,248.2 340.0,249.5 C343.7,250.8 350.0,253.0 355.0,255.0 C360.0,257.0 364.2,259.2 370.0,261.5 C375.8,263.8 383.3,266.8 390.0,269.0 C396.7,271.2 403.6,273.4 410.0,274.5 C416.4,275.6 425.5,275.5 428.6,275.7 L434.0,313.0 C432.6,313.2 429.7,314.1 425.7,314.3 C421.7,314.5 414.8,314.2 410.0,314.0 C405.2,313.8 402.0,313.7 397.0,312.9 C392.0,312.1 384.7,310.3 380.0,309.0 C375.3,307.7 373.1,307.3 368.6,305.0 C364.1,302.7 357.4,298.7 353.0,295.0 C348.6,291.3 345.6,287.2 342.5,283.0 C339.4,278.8 336.6,274.3 334.5,270.0 C332.4,265.7 330.8,259.2 330.0,257.0Z" fill="url(#gvein)"/>
<g clip-path="url(#cvein)"><path d="M350.0,262.0 C353.7,263.7 364.7,269.0 372.0,272.0 C379.3,275.0 386.7,278.0 394.0,280.0 C401.3,282.0 412.3,283.3 416.0,284.0" fill="none" stroke="#ffffff" stroke-width="9" filter="url(#b3)" opacity="0.9"/>
<path d="M328.5,250.0 C328.8,251.3 329.0,254.5 330.0,258.0 C331.0,261.5 332.4,266.7 334.5,271.0 C336.6,275.3 339.4,279.8 342.5,284.0 C345.6,288.2 348.6,292.3 353.0,296.0 C357.4,299.7 366.0,304.3 368.6,306.0" fill="none" stroke="#0c2a8c" stroke-width="5" filter="url(#b2)" opacity="0.8"/><path d="M328,247 L345,250 L360,255 L376,262" fill="none" stroke="#0a1e6c" stroke-width="7" filter="url(#b2)" opacity="0.7"/></g>
<ellipse cx="433.8" cy="294.8" rx="5.8" ry="19.4" transform="rotate(-5 433.8 294.8)" fill="#2258d8" stroke="#1a4cc8" stroke-width="0.8"/>
<ellipse cx="434.6" cy="295" rx="3.5" ry="15.5" transform="rotate(-5 434.6 295)" fill="url(#gvi)"/>
<path d="M302.0,143.0 C301.5,143.5 299.7,144.8 299.0,146.0 C298.3,147.2 298.7,149.0 298.0,150.0 C297.3,151.0 295.5,150.8 295.0,152.0 C294.5,153.2 295.0,156.2 295.0,157.0" fill="none" stroke="#dc1e24" stroke-width="1.8" stroke-linecap="round"/>
<path d="M296.0,166.0 C296.2,167.5 296.3,172.2 297.0,175.0 C297.7,177.8 298.9,180.7 300.0,183.0 C301.1,185.3 303.2,188.0 303.8,189.0" fill="none" stroke="#1e5fc0" stroke-width="2.4" stroke-linecap="round"/>
<path d="M249.0,176.0 C248.5,176.8 247.3,179.7 246.0,181.0 C244.7,182.3 242.3,182.5 241.0,184.0 C239.7,185.5 238.5,189.0 238.0,190.0" fill="none" stroke="#dc1e24" stroke-width="1.8" stroke-linecap="round"/>
<path d="M240.0,187.0 C240.7,186.7 243.3,185.3 244.0,185.0" fill="none" stroke="#dc1e24" stroke-width="1.8" stroke-linecap="round"/>
<path d="M226.0,210.0 C226.3,211.2 227.8,215.0 228.0,217.0 C228.2,219.0 226.8,220.3 227.0,222.0 C227.2,223.7 228.7,226.2 229.0,227.0" fill="none" stroke="#1e5fc0" stroke-width="2.4" stroke-linecap="round"/>
<path d="M242.0,233.0 C243.3,233.5 247.8,235.8 250.0,236.0 C252.2,236.2 253.3,234.0 255.0,234.0 C256.7,234.0 259.2,235.7 260.0,236.0" fill="none" stroke="#dc1e24" stroke-width="1.8" stroke-linecap="round"/>
<path d="M265.0,239.5 C266.0,239.8 269.0,240.8 271.0,241.0 C273.0,241.2 276.0,240.6 277.0,240.5" fill="none" stroke="#1e5fc0" stroke-width="2.2" stroke-linecap="round"/>
<path d="M226.0,250.0 C225.8,251.7 224.7,257.0 225.0,260.0 C225.3,263.0 227.7,265.5 228.0,268.0 C228.3,270.5 227.2,273.8 227.0,275.0" fill="none" stroke="#dc1e24" stroke-width="1.8" stroke-linecap="round"/>
<path d="M364.0,152.0 C364.7,153.0 366.7,155.8 368.0,158.0 C369.3,160.2 371.3,163.8 372.0,165.0" fill="none" stroke="#1e5fc0" stroke-width="2.4" stroke-linecap="round"/>
<path d="M395.0,199.0 C395.2,200.3 396.3,204.0 396.0,207.0 C395.7,210.0 394.5,214.2 393.0,217.0 C391.5,219.8 388.0,222.8 387.0,224.0" fill="none" stroke="#1e5fc0" stroke-width="2.2" stroke-linecap="round"/>
<path d="M365.0,240.0 C366.2,239.8 369.7,239.7 372.0,239.0 C374.3,238.3 377.0,237.2 379.0,236.0 C381.0,234.8 383.2,232.7 384.0,232.0" fill="none" stroke="#dc1e24" stroke-width="1.8" stroke-linecap="round"/>
<path d="M240.0,300.0 C240.5,300.8 242.3,303.2 243.0,304.5 C243.7,305.8 243.4,306.9 244.0,308.0 C244.6,309.1 246.1,310.5 246.5,311.0" fill="none" stroke="#1e5fc0" stroke-width="2.6" stroke-linecap="round"/>
<path d="M281.0,300.0 C281.7,299.5 283.8,297.7 285.0,297.0 C286.2,296.3 286.8,296.8 288.0,296.0 C289.2,295.2 291.3,293.1 292.0,292.5" fill="none" stroke="#1e5fc0" stroke-width="2.2" stroke-linecap="round"/>
<path d="M309.0,353.0 C309.3,352.3 310.7,349.7 311.0,349.0" fill="none" stroke="#1e5fc0" stroke-width="1.6" stroke-linecap="round"/>
<path d="M286.0,368.0 C286.8,367.2 289.9,364.7 291.0,363.0 C292.1,361.3 291.7,359.5 292.5,358.0 C293.3,356.5 295.4,354.7 296.0,354.0" fill="none" stroke="#dc1e24" stroke-width="1.8" stroke-linecap="round"/>
<path d="M361.0,352.0 C361.5,352.8 363.5,355.3 364.0,357.0 C364.5,358.7 364.0,361.2 364.0,362.0" fill="none" stroke="#dc1e24" stroke-width="1.8" stroke-linecap="round"/>
<path d="M361.0,364.0 C360.7,365.3 359.3,370.7 359.0,372.0" fill="none" stroke="#1e5fc0" stroke-width="2.4" stroke-linecap="round"/>
<path d="M302.0,388.0 C302.8,388.3 305.3,389.7 307.0,390.0 C308.7,390.3 311.2,390.0 312.0,390.0" fill="none" stroke="#1e5fc0" stroke-width="2.2" stroke-linecap="round"/>
<path d="M317.0,396.0 C317.5,395.7 319.2,394.7 320.0,394.0 C320.8,393.3 321.7,392.3 322.0,392.0" fill="none" stroke="#dc1e24" stroke-width="1.2" stroke-linecap="round"/>
<line class="ln" x1="45.0" y1="187.6" x2="267.0" y2="187.6"/>
<text class="lbl" x="44.7" y="180.5" textLength="82.0" lengthAdjust="spacingAndGlyphs">Renal medulla</text>
<line class="ln" x1="33.7" y1="237.5" x2="313.0" y2="237.5"/>
<text class="lbl" x="33.2" y="232.1" textLength="74.0" lengthAdjust="spacingAndGlyphs">Renal papilla</text>
<line class="ln" x1="33.7" y1="308.8" x2="322.0" y2="308.8"/>
<text class="lbl" x="33.2" y="301.4" textLength="95.0" lengthAdjust="spacingAndGlyphs">Fat in renal sinus</text>
<line class="ln" x1="76.5" y1="347.0" x2="231.0" y2="347.0"/>
<text class="lbl" x="76.0" y="340.0" textLength="79.0" lengthAdjust="spacingAndGlyphs">Renal capsule</text>
<line class="ln" x1="68.0" y1="403.5" x2="287.0" y2="403.5"/>
<text class="lbl" x="67.5" y="396.9" textLength="71.3" lengthAdjust="spacingAndGlyphs">Renal cortex</text>
<line class="ln" x1="409.8" y1="242.0" x2="561.0" y2="242.0"/>
<text class="lbl" x="492.6" y="236.3" textLength="69.0" lengthAdjust="spacingAndGlyphs">Renal artery</text>
<line class="ln" x1="417.0" y1="284.5" x2="568.2" y2="284.5"/>
<text class="lbl" x="510.0" y="278.2" textLength="58.6" lengthAdjust="spacingAndGlyphs">Renal vein</text>
<line class="ln" x1="413.7" y1="325.0" x2="550.0" y2="325.0"/>
<text class="lbl" x="482.8" y="318.7" textLength="68.0" lengthAdjust="spacingAndGlyphs">Renal pelvis</text>
<line class="ln" x1="416.7" y1="445.3" x2="577.7" y2="445.3"/>
<text class="lbl" x="540.5" y="439.0" textLength="37.7" lengthAdjust="spacingAndGlyphs">Ureter</text>
<text class="ttl" x="227.3" y="41.9" textLength="160.4" lengthAdjust="spacingAndGlyphs">Kidney structure</text>
</svg></body></html>
